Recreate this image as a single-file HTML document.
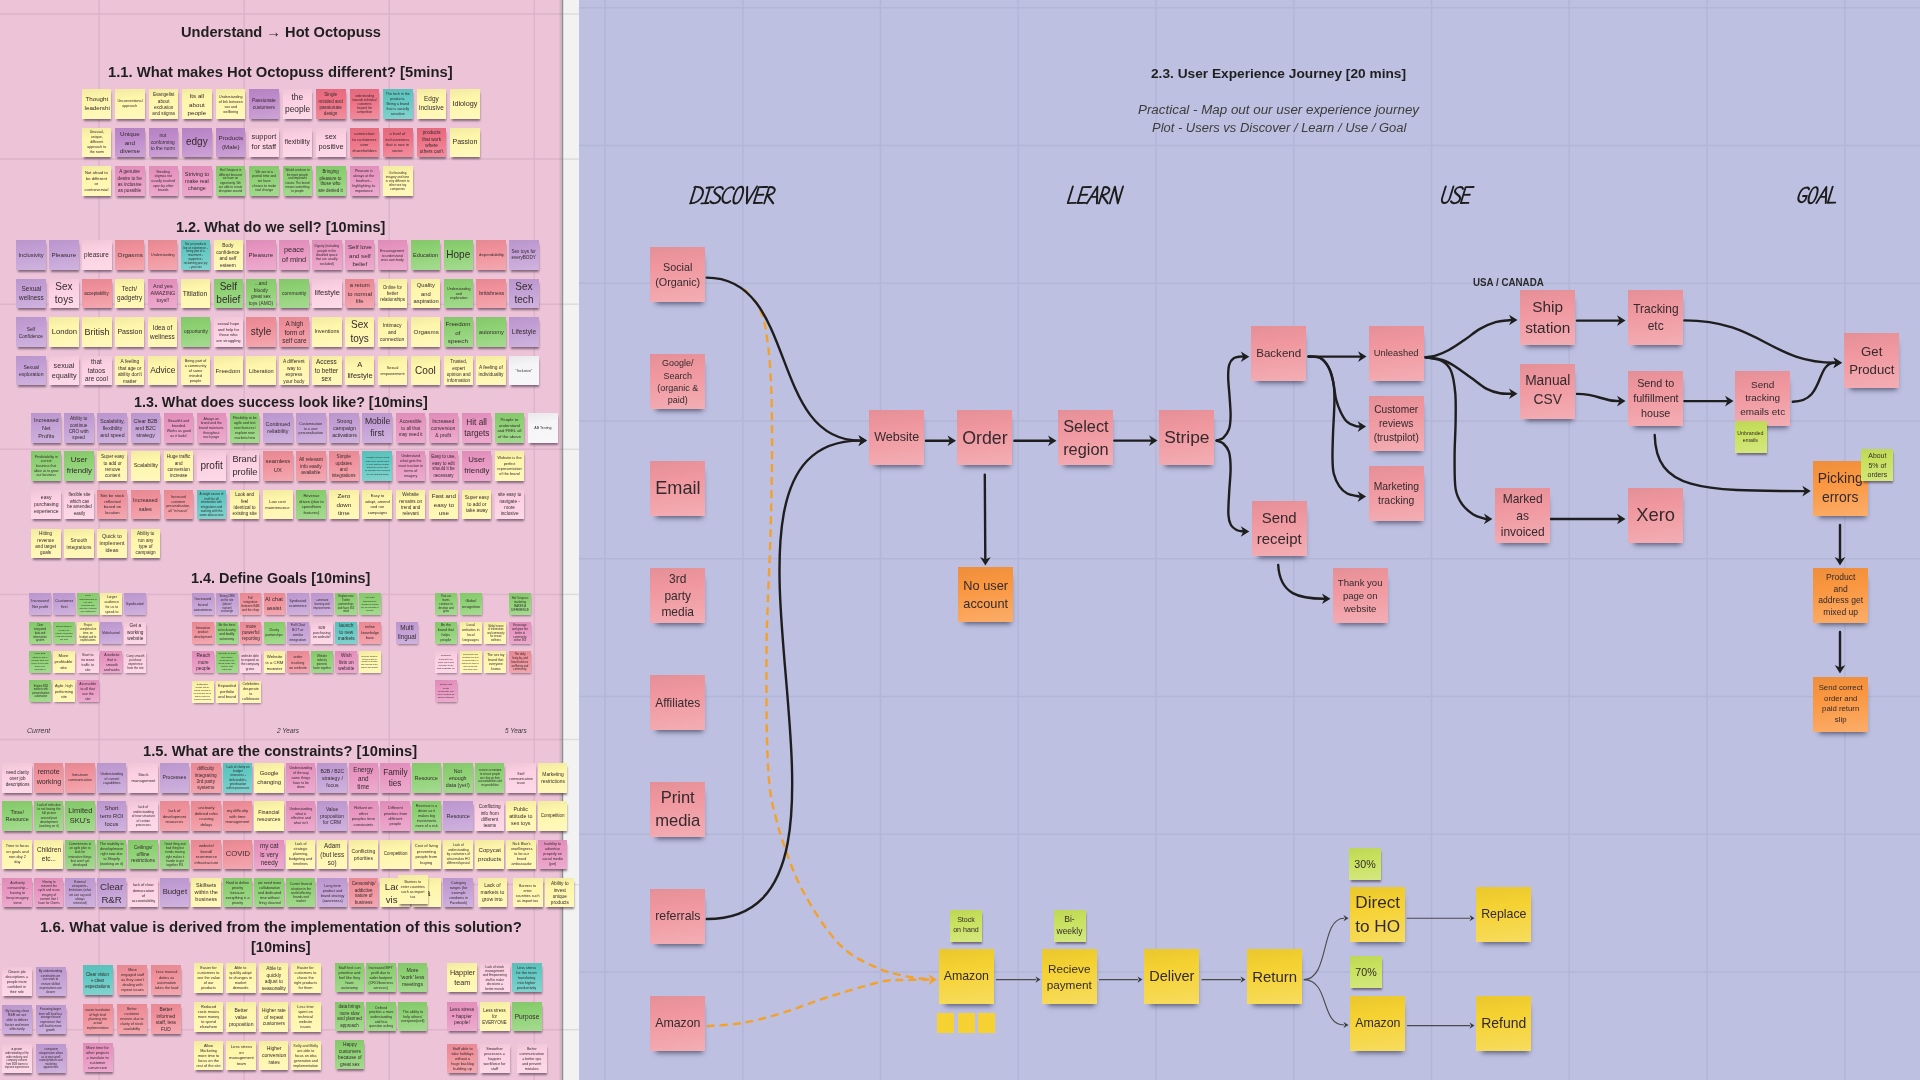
<!DOCTYPE html><html><head><meta charset="utf-8"><title>Miro board</title><style>
*{margin:0;padding:0;box-sizing:border-box}
html,body{width:1920px;height:1080px;overflow:hidden;background:#F2F2F2}
body{position:relative;font-family:"Liberation Sans",sans-serif}
#wrap{position:absolute;left:0;top:0;width:1920px;height:1080px;will-change:transform}
svg.grid,svg.conn{position:absolute;left:0;top:0}
.gp{stroke:#DDB4CA;stroke-width:1.5}
.gl{stroke:#B3B6D7;stroke-width:1.5}
.s{position:absolute;display:flex;align-items:center;justify-content:center;text-align:center;color:#342A2D;line-height:1.36;background-image:linear-gradient(172deg,rgba(0,0,0,.05) 0%,rgba(0,0,0,0) 35%,rgba(255,255,255,.22) 100%)}
.s span{display:block;flex:none;overflow-wrap:normal;word-break:normal}
.sh{box-shadow:2px 6px 5px -4px rgba(30,30,60,.62)}
.sm{box-shadow:1px 3px 2px -1px rgba(50,30,50,.55)}
.xs{box-shadow:1px 2px 2px -1px rgba(50,30,50,.5)}
.ti{position:absolute;white-space:nowrap}
.sq{position:absolute;top:1013.3px;width:17.4px;height:20px;background:#F5D231}
.ti span{position:absolute;left:0;transform-origin:0 0}
</style></head><body><div id="wrap"><svg class="grid" width="1920" height="1080" viewBox="0 0 1920 1080"><rect x="0" y="0" width="561.5" height="1080" fill="#ECC3D7"></rect><rect x="561.5" y="0" width="17.5" height="1080" fill="#F2F2F2"></rect><rect x="579" y="0" width="1341" height="1080" fill="#BDC0E0"></rect><line x1="0" y1="14.0" x2="579" y2="14.0" class="gp"></line><line x1="0" y1="159.1" x2="579" y2="159.1" class="gp"></line><line x1="0" y1="304.2" x2="579" y2="304.2" class="gp"></line><line x1="0" y1="449.3" x2="579" y2="449.3" class="gp"></line><line x1="0" y1="594.4" x2="579" y2="594.4" class="gp"></line><line x1="0" y1="739.5" x2="579" y2="739.5" class="gp"></line><line x1="0" y1="884.6" x2="579" y2="884.6" class="gp"></line><line x1="0" y1="1029.7" x2="579" y2="1029.7" class="gp"></line><line x1="99.1" y1="0" x2="99.1" y2="1080" class="gp"></line><line x1="244.2" y1="0" x2="244.2" y2="1080" class="gp"></line><line x1="389.2" y1="0" x2="389.2" y2="1080" class="gp"></line><line x1="534.3" y1="0" x2="534.3" y2="1080" class="gp"></line><rect x="563" y="0" width="16" height="1080" fill="#F2F2F2"></rect><line x1="563" y1="14.0" x2="579" y2="14.0" stroke="#DCDCDC" stroke-width="1.5"></line><line x1="563" y1="159.1" x2="579" y2="159.1" stroke="#DCDCDC" stroke-width="1.5"></line><line x1="563" y1="304.2" x2="579" y2="304.2" stroke="#DCDCDC" stroke-width="1.5"></line><line x1="563" y1="449.3" x2="579" y2="449.3" stroke="#DCDCDC" stroke-width="1.5"></line><line x1="563" y1="594.4" x2="579" y2="594.4" stroke="#DCDCDC" stroke-width="1.5"></line><line x1="563" y1="739.5" x2="579" y2="739.5" stroke="#DCDCDC" stroke-width="1.5"></line><line x1="563" y1="884.6" x2="579" y2="884.6" stroke="#DCDCDC" stroke-width="1.5"></line><line x1="563" y1="1029.7" x2="579" y2="1029.7" stroke="#DCDCDC" stroke-width="1.5"></line><line x1="579" y1="7.7" x2="1920" y2="7.7" class="gl"></line><line x1="579" y1="145.4" x2="1920" y2="145.4" class="gl"></line><line x1="579" y1="283.2" x2="1920" y2="283.2" class="gl"></line><line x1="579" y1="420.9" x2="1920" y2="420.9" class="gl"></line><line x1="579" y1="558.7" x2="1920" y2="558.7" class="gl"></line><line x1="579" y1="696.5" x2="1920" y2="696.5" class="gl"></line><line x1="579" y1="834.2" x2="1920" y2="834.2" class="gl"></line><line x1="579" y1="972.0" x2="1920" y2="972.0" class="gl"></line><line x1="605.0" y1="0" x2="605.0" y2="1080" class="gl"></line><line x1="742.8" y1="0" x2="742.8" y2="1080" class="gl"></line><line x1="880.5" y1="0" x2="880.5" y2="1080" class="gl"></line><line x1="1018.2" y1="0" x2="1018.2" y2="1080" class="gl"></line><line x1="1156.0" y1="0" x2="1156.0" y2="1080" class="gl"></line><line x1="1293.8" y1="0" x2="1293.8" y2="1080" class="gl"></line><line x1="1431.5" y1="0" x2="1431.5" y2="1080" class="gl"></line><line x1="1569.2" y1="0" x2="1569.2" y2="1080" class="gl"></line><line x1="1707.0" y1="0" x2="1707.0" y2="1080" class="gl"></line><line x1="1844.8" y1="0" x2="1844.8" y2="1080" class="gl"></line><defs><linearGradient id="edg" x1="0" x2="1" y1="0" y2="0"><stop offset="0" stop-color="#000" stop-opacity="0"></stop><stop offset="1" stop-color="#000" stop-opacity=".13"></stop></linearGradient></defs><rect x="558.6" y="0" width="3" height="1080" fill="url(#edg)"></rect><rect x="561.6" y="0" width="1.6" height="1080" fill="#8E8E8E"></rect></svg><div class="s sm" style="left:81.6px;top:89.3px;width:29.5px;height:29.3px;background-color:#FEF6AA"><span style="font-size: 7px; width: 27.69px; transform: scale(0.8883);">Thought leadershi</span></div><div class="s sm" style="left:115.1px;top:89.3px;width:29.5px;height:29.3px;background-color:#FEF6AA"><span style="font-size: 7px; width: 47.59px; transform: scale(0.5169);">Unconventional approach</span></div><div class="s sm" style="left:148.6px;top:89.3px;width:29.5px;height:29.3px;background-color:#FEF6AA"><span style="font-size: 7px; width: 37.29px; transform: scale(0.6597);">Evangelist about exclusion and stigma</span></div><div class="s sm" style="left:182.1px;top:89.3px;width:29.5px;height:29.3px;background-color:#FEF6AA"><span style="font-size: 7px; width: 27.69px; transform: scale(0.8883);">Its all about people</span></div><div class="s sm" style="left:215.6px;top:89.3px;width:29.5px;height:29.3px;background-color:#FEF6AA"><span style="font-size: 7px; width: 47.59px; transform: scale(0.5169);">Understanding of link between sex and wellbeing</span></div><div class="s sm" style="left:249.1px;top:89.3px;width:29.5px;height:29.3px;background-color:#BE8ACB"><span style="font-size: 7px; width: 35.74px; transform: scale(0.6883);">Passionate customers</span></div><div class="s sm" style="left:282.5px;top:89.3px;width:29.5px;height:29.3px;background-color:#FCD0E2"><span style="font-size: 8.42px; width: 24.6px;">the people</span></div><div class="s sm" style="left:316.0px;top:89.3px;width:29.5px;height:29.3px;background-color:#EE6F83"><span style="font-size: 7px; width: 37.29px; transform: scale(0.6597);">Single minded and passionate design</span></div><div class="s sm" style="left:349.5px;top:89.3px;width:29.5px;height:29.3px;background-color:#EE6F83"><span style="font-size: 7px; width: 57.06px; transform: scale(0.4312);">understanding towards individual customers beyond the competition</span></div><div class="s sm" style="left:383.0px;top:89.3px;width:29.5px;height:29.3px;background-color:#60C8C2"><span style="font-size: 7px; width: 47.59px; transform: scale(0.5169);">The tech in the products. Being a brand that is socially sensitive</span></div><div class="s sm" style="left:416.5px;top:89.3px;width:29.5px;height:29.3px;background-color:#FEF6AA"><span style="font-size: 7px; width: 26.83px; transform: scale(0.9169);">Edgy inclusive</span></div><div class="s sm" style="left:450.0px;top:89.3px;width:29.5px;height:29.3px;background-color:#FEF6AA"><span style="font-size: 7.22px; width: 24.6px;">Idiology</span></div><div class="s sm" style="left:81.6px;top:127.5px;width:29.5px;height:29.3px;background-color:#FEF6AA"><span style="font-size: 7px; width: 47.59px; transform: scale(0.5169);">Unusual, unique, different approach to the norm</span></div><div class="s sm" style="left:115.1px;top:127.5px;width:29.5px;height:29.3px;background-color:#BE8ACB"><span style="font-size: 7px; width: 27.69px; transform: scale(0.8883);">Unique and diverse</span></div><div class="s sm" style="left:148.6px;top:127.5px;width:29.5px;height:29.3px;background-color:#BE8ACB"><span style="font-size: 7px; width: 35.74px; transform: scale(0.6883);">not conforming to the norm</span></div><div class="s sm" style="left:182.1px;top:127.5px;width:29.5px;height:29.3px;background-color:#BE8ACB"><span style="font-size: 10.02px; width: 24.6px;">edgy</span></div><div class="s sm" style="left:215.6px;top:127.5px;width:29.5px;height:29.3px;background-color:#BE8ACB"><span style="font-size: 7px; width: 27.69px; transform: scale(0.8883);">Products (Male)</span></div><div class="s sm" style="left:249.1px;top:127.5px;width:29.5px;height:29.3px;background-color:#FCD0E2"><span style="font-size: 7.42px; width: 24.6px;">support for staff</span></div><div class="s sm" style="left:282.5px;top:127.5px;width:29.5px;height:29.3px;background-color:#FCD0E2"><span style="font-size: 7px; width: 26.02px; transform: scale(0.9454);">flexibility</span></div><div class="s sm" style="left:316.0px;top:127.5px;width:29.5px;height:29.3px;background-color:#FCD0E2"><span style="font-size: 7.42px; width: 24.6px;">sex positive</span></div><div class="s sm" style="left:349.5px;top:127.5px;width:29.5px;height:29.3px;background-color:#EE6F83"><span style="font-size: 7px; width: 40.82px; transform: scale(0.6026);">connection to customers over shareholders</span></div><div class="s sm" style="left:383.0px;top:127.5px;width:29.5px;height:29.3px;background-color:#EE6F83"><span style="font-size: 7px; width: 42.86px; transform: scale(0.574);">a level of inclusiveness that is rare in sector</span></div><div class="s sm" style="left:416.5px;top:127.5px;width:29.5px;height:29.3px;background-color:#EE6F83"><span style="font-size: 7px; width: 37.29px; transform: scale(0.6597);">products that work where others can't</span></div><div class="s sm" style="left:450.0px;top:127.5px;width:29.5px;height:29.3px;background-color:#FEF6AA"><span style="font-size: 7.02px; width: 24.6px;">Passion</span></div><div class="s sm" style="left:81.6px;top:166.3px;width:29.5px;height:29.3px;background-color:#FEF6AA"><span style="font-size: 7px; width: 40.82px; transform: scale(0.6026);">Not afraid to be different or controversial</span></div><div class="s sm" style="left:115.1px;top:166.3px;width:29.5px;height:29.3px;background-color:#E895C1"><span style="font-size: 7px; width: 37.29px; transform: scale(0.6597);">A genuine desire to be as inclusive as possible</span></div><div class="s sm" style="left:148.6px;top:166.3px;width:29.5px;height:29.3px;background-color:#E895C1"><span style="font-size: 7px; width: 50.38px; transform: scale(0.4883);">Breaking stigmas not usually touched upon by other brands</span></div><div class="s sm" style="left:182.1px;top:166.3px;width:29.5px;height:29.3px;background-color:#E895C1"><span style="font-size: 7px; width: 31.78px; transform: scale(0.774);">Striving to make real change</span></div><div class="s sm" style="left:215.6px;top:166.3px;width:29.5px;height:29.3px;background-color:#8CD172"><span style="font-size: 7px; width: 57.06px; transform: scale(0.4312);">Hot Octopuss is different because we have an opportunity. We are able to create disruption around</span></div><div class="s sm" style="left:249.1px;top:166.3px;width:29.5px;height:29.3px;background-color:#8CD172"><span style="font-size: 7px; width: 50.38px; transform: scale(0.4883);">We are at a pivotal time and we have chance to make real change</span></div><div class="s sm" style="left:282.5px;top:166.3px;width:29.5px;height:29.3px;background-color:#8CD172"><span style="font-size: 7px; width: 57.06px; transform: scale(0.4312);">Would continue to be more people and important issues. The brand means something to people</span></div><div class="s sm" style="left:316.0px;top:166.3px;width:29.5px;height:29.3px;background-color:#8CD172"><span style="font-size: 7px; width: 38.98px; transform: scale(0.6312);">Bringing pleasure to those who are denied it</span></div><div class="s sm" style="left:349.5px;top:166.3px;width:29.5px;height:29.3px;background-color:#E895C1"><span style="font-size: 7px; width: 47.59px; transform: scale(0.5169);">Pleasure is always at the forefront - highlighting its importance</span></div><div class="s sm" style="left:383.0px;top:166.3px;width:29.5px;height:29.3px;background-color:#FEF6AA"><span style="font-size: 7px; width: 57.06px; transform: scale(0.4312);">Our branding imagery and tone is very different to other sex toy companies</span></div><div class="s sm" style="left:16.3px;top:240.0px;width:29.6px;height:29.6px;background-color:#C29ED5"><span style="font-size: 7px; width: 29.6px; transform: scale(0.8312);">Inclusivity</span></div><div class="s sm" style="left:49.2px;top:240.0px;width:29.6px;height:29.6px;background-color:#C29ED5"><span style="font-size: 7px; width: 27.69px; transform: scale(0.8883);">Pleasure</span></div><div class="s sm" style="left:82.0px;top:240.0px;width:29.6px;height:29.6px;background-color:#FCD0E2"><span style="font-size: 7px; width: 26.83px; transform: scale(0.9169);">pleasure</span></div><div class="s sm" style="left:114.9px;top:240.0px;width:29.6px;height:29.6px;background-color:#F0909A"><span style="font-size: 7px; width: 27.69px; transform: scale(0.8883);">Orgasms</span></div><div class="s sm" style="left:147.7px;top:240.0px;width:29.6px;height:29.6px;background-color:#F0909A"><span style="font-size: 7px; width: 47.59px; transform: scale(0.5169);">Understanding</span></div><div class="s sm" style="left:180.6px;top:240.0px;width:29.6px;height:29.6px;background-color:#60C8C2"><span style="font-size: 7px; width: 61.11px; transform: scale(0.4026);">Not just products but an experience - being part of a movement - supportive - reclaiming your joy - your sex</span></div><div class="s sm" style="left:213.5px;top:240.0px;width:29.6px;height:29.6px;background-color:#FEF6AA"><span style="font-size: 7px; width: 35.74px; transform: scale(0.6883);">Body confidence and self esteem</span></div><div class="s sm" style="left:246.3px;top:240.0px;width:29.6px;height:29.6px;background-color:#E895C1"><span style="font-size: 7px; width: 27.69px; transform: scale(0.8883);">Pleasure</span></div><div class="s sm" style="left:279.2px;top:240.0px;width:29.6px;height:29.6px;background-color:#E895C1"><span style="font-size: 7.42px; width: 24.6px;">peace of mind</span></div><div class="s sm" style="left:312.0px;top:240.0px;width:29.6px;height:29.6px;background-color:#E895C1"><span style="font-size: 7px; width: 53.51px; transform: scale(0.4597);">Dignity (including people in the disabled space that are usually excluded)</span></div><div class="s sm" style="left:344.9px;top:240.0px;width:29.6px;height:29.6px;background-color:#E895C1"><span style="font-size: 7px; width: 27.69px; transform: scale(0.8883);">Self love and self belief</span></div><div class="s sm" style="left:377.8px;top:240.0px;width:29.6px;height:29.6px;background-color:#E895C1"><span style="font-size: 7px; width: 50.38px; transform: scale(0.4883);">Encouragement to understand ones own body</span></div><div class="s sm" style="left:410.6px;top:240.0px;width:29.6px;height:29.6px;background-color:#8CD172"><span style="font-size: 7px; width: 30.65px; transform: scale(0.8026);">Education</span></div><div class="s sm" style="left:443.5px;top:240.0px;width:29.6px;height:29.6px;background-color:#8CD172"><span style="font-size: 10.02px; width: 24.6px;">Hope</span></div><div class="s sm" style="left:476.3px;top:240.0px;width:29.6px;height:29.6px;background-color:#F0909A"><span style="font-size: 7px; width: 40.82px; transform: scale(0.6026);">dependability</span></div><div class="s sm" style="left:509.2px;top:240.0px;width:29.6px;height:29.6px;background-color:#C29ED5"><span style="font-size: 7px; width: 37.29px; transform: scale(0.6597);">Sex toys for everyBODY</span></div><div class="s sm" style="left:16.3px;top:278.7px;width:29.6px;height:29.6px;background-color:#C29ED5"><span style="font-size: 7px; width: 26.83px; transform: scale(0.9169);">Sexual wellness</span></div><div class="s sm" style="left:49.2px;top:278.7px;width:29.6px;height:29.6px;background-color:#FCD0E2"><span style="font-size: 10.02px; width: 24.6px;">Sex toys</span></div><div class="s sm" style="left:82.0px;top:278.7px;width:29.6px;height:29.6px;background-color:#F0909A"><span style="font-size: 7px; width: 38.98px; transform: scale(0.6312);">acceptability</span></div><div class="s sm" style="left:114.9px;top:278.7px;width:29.6px;height:29.6px;background-color:#FEF6AA"><span style="font-size: 7px; width: 26.83px; transform: scale(0.9169);">Tech/​ gadgetry</span></div><div class="s sm" style="left:147.7px;top:278.7px;width:29.6px;height:29.6px;background-color:#E895C1"><span style="font-size: 7px; width: 31.78px; transform: scale(0.774);">And yes AMAZING toys!!</span></div><div class="s sm" style="left:180.6px;top:278.7px;width:29.6px;height:29.6px;background-color:#FEF6AA"><span style="font-size: 7px; width: 26.02px; transform: scale(0.9454);">Titilation</span></div><div class="s sm" style="left:213.5px;top:278.7px;width:29.6px;height:29.6px;background-color:#8CD172"><span style="font-size: 10.02px; width: 24.6px;">Self belief</span></div><div class="s sm" style="left:246.3px;top:278.7px;width:29.6px;height:29.6px;background-color:#8CD172"><span style="font-size: 7px; width: 35.74px; transform: scale(0.6883);">...and bloody great sex toys (AMO)</span></div><div class="s sm" style="left:279.2px;top:278.7px;width:29.6px;height:29.6px;background-color:#8CD172"><span style="font-size: 7px; width: 34.32px; transform: scale(0.7169);">community</span></div><div class="s sm" style="left:312.0px;top:278.7px;width:29.6px;height:29.6px;background-color:#FCD0E2"><span style="font-size: 7.62px; width: 24.6px;">lifestyle</span></div><div class="s sm" style="left:344.9px;top:278.7px;width:29.6px;height:29.6px;background-color:#F0909A"><span style="font-size: 7px; width: 29.6px; transform: scale(0.8312);">a return to normal life</span></div><div class="s sm" style="left:377.8px;top:278.7px;width:29.6px;height:29.6px;background-color:#FEF6AA"><span style="font-size: 7px; width: 38.98px; transform: scale(0.6312);">Online for better relationships</span></div><div class="s sm" style="left:410.6px;top:278.7px;width:29.6px;height:29.6px;background-color:#FEF6AA"><span style="font-size: 7px; width: 29.6px; transform: scale(0.8312);">Quality and aspiration</span></div><div class="s sm" style="left:443.5px;top:278.7px;width:29.6px;height:29.6px;background-color:#8CD172"><span style="font-size: 7px; width: 47.59px; transform: scale(0.5169);">Understanding and exploration</span></div><div class="s sm" style="left:476.3px;top:278.7px;width:29.6px;height:29.6px;background-color:#F0909A"><span style="font-size: 7px; width: 33px; transform: scale(0.7454);">britishness</span></div><div class="s sm" style="left:509.2px;top:278.7px;width:29.6px;height:29.6px;background-color:#C29ED5"><span style="font-size: 10.02px; width: 24.6px;">Sex tech</span></div><div class="s sm" style="left:16.3px;top:317.3px;width:29.6px;height:29.6px;background-color:#C29ED5"><span style="font-size: 7px; width: 35.74px; transform: scale(0.6883);">Self Confidence</span></div><div class="s sm" style="left:49.2px;top:317.3px;width:29.6px;height:29.6px;background-color:#FEF6AA"><span style="font-size: 7.62px; width: 24.6px;">London</span></div><div class="s sm" style="left:82.0px;top:317.3px;width:29.6px;height:29.6px;background-color:#FEF6AA"><span style="font-size: 9.02px; width: 24.6px;">British</span></div><div class="s sm" style="left:114.9px;top:317.3px;width:29.6px;height:29.6px;background-color:#FEF6AA"><span style="font-size: 7.02px; width: 24.6px;">Passion</span></div><div class="s sm" style="left:147.7px;top:317.3px;width:29.6px;height:29.6px;background-color:#FEF6AA"><span style="font-size: 7px; width: 26.83px; transform: scale(0.9169);">Idea of wellness</span></div><div class="s sm" style="left:180.6px;top:317.3px;width:29.6px;height:29.6px;background-color:#8CD172"><span style="font-size: 7px; width: 35.74px; transform: scale(0.6883);">opportunity</span></div><div class="s sm" style="left:213.5px;top:317.3px;width:29.6px;height:29.6px;background-color:#FCD0E2"><span style="font-size: 7px; width: 42.86px; transform: scale(0.574);">sexual hope and help for those who are struggling</span></div><div class="s sm" style="left:246.3px;top:317.3px;width:29.6px;height:29.6px;background-color:#F0909A"><span style="font-size: 10.02px; width: 24.6px;">style</span></div><div class="s sm" style="left:279.2px;top:317.3px;width:29.6px;height:29.6px;background-color:#F0909A"><span style="font-size: 7px; width: 26.83px; transform: scale(0.9169);">A high form of self care</span></div><div class="s sm" style="left:312.0px;top:317.3px;width:29.6px;height:29.6px;background-color:#FEF6AA"><span style="font-size: 7px; width: 31.78px; transform: scale(0.774);">Inventions</span></div><div class="s sm" style="left:344.9px;top:317.3px;width:29.6px;height:29.6px;background-color:#FEF6AA"><span style="font-size: 10.02px; width: 24.6px;">Sex toys</span></div><div class="s sm" style="left:377.8px;top:317.3px;width:29.6px;height:29.6px;background-color:#FEF6AA"><span style="font-size: 7px; width: 34.32px; transform: scale(0.7169);">Intimacy and connection</span></div><div class="s sm" style="left:410.6px;top:317.3px;width:29.6px;height:29.6px;background-color:#FEF6AA"><span style="font-size: 7px; width: 27.69px; transform: scale(0.8883);">Orgasms</span></div><div class="s sm" style="left:443.5px;top:317.3px;width:29.6px;height:29.6px;background-color:#8CD172"><span style="font-size: 7px; width: 27.69px; transform: scale(0.8883);">Freedom of speech</span></div><div class="s sm" style="left:476.3px;top:317.3px;width:29.6px;height:29.6px;background-color:#8CD172"><span style="font-size: 7px; width: 30.65px; transform: scale(0.8026);">autonomy</span></div><div class="s sm" style="left:509.2px;top:317.3px;width:29.6px;height:29.6px;background-color:#C29ED5"><span style="font-size: 7px; width: 26.02px; transform: scale(0.9454);">Lifestyle</span></div><div class="s sm" style="left:16.3px;top:355.9px;width:29.6px;height:29.6px;background-color:#C29ED5"><span style="font-size: 7px; width: 34.32px; transform: scale(0.7169);">Sexual exploration</span></div><div class="s sm" style="left:49.2px;top:355.9px;width:29.6px;height:29.6px;background-color:#FCD0E2"><span style="font-size: 7.22px; width: 24.6px;">sexual equality</span></div><div class="s sm" style="left:82.0px;top:355.9px;width:29.6px;height:29.6px;background-color:#FCD0E2"><span style="font-size: 7px; width: 26.83px; transform: scale(0.9169);">that tatoos are cool</span></div><div class="s sm" style="left:114.9px;top:355.9px;width:29.6px;height:29.6px;background-color:#FEF6AA"><span style="font-size: 7px; width: 35.74px; transform: scale(0.6883);">A feeling that age or ability don't matter</span></div><div class="s sm" style="left:147.7px;top:355.9px;width:29.6px;height:29.6px;background-color:#FEF6AA"><span style="font-size: 8.42px; width: 24.6px;">Advice</span></div><div class="s sm" style="left:180.6px;top:355.9px;width:29.6px;height:29.6px;background-color:#FEF6AA"><span style="font-size: 7px; width: 45.1px; transform: scale(0.5454);">Being part of a community of same minded people</span></div><div class="s sm" style="left:213.5px;top:355.9px;width:29.6px;height:29.6px;background-color:#FEF6AA"><span style="font-size: 7px; width: 27.69px; transform: scale(0.8883);">Freedom</span></div><div class="s sm" style="left:246.3px;top:355.9px;width:29.6px;height:29.6px;background-color:#FEF6AA"><span style="font-size: 7px; width: 30.65px; transform: scale(0.8026);">Liberation</span></div><div class="s sm" style="left:279.2px;top:355.9px;width:29.6px;height:29.6px;background-color:#FEF6AA"><span style="font-size: 7px; width: 35.74px; transform: scale(0.6883);">A different way to express your body</span></div><div class="s sm" style="left:312.0px;top:355.9px;width:29.6px;height:29.6px;background-color:#FEF6AA"><span style="font-size: 7px; width: 26.83px; transform: scale(0.9169);">Access to better sex</span></div><div class="s sm" style="left:344.9px;top:355.9px;width:29.6px;height:29.6px;background-color:#FEF6AA"><span style="font-size: 7.62px; width: 24.6px;">A lifestyle</span></div><div class="s sm" style="left:377.8px;top:355.9px;width:29.6px;height:29.6px;background-color:#FEF6AA"><span style="font-size: 7px; width: 45.1px; transform: scale(0.5454);">Sexual empowerment</span></div><div class="s sm" style="left:410.6px;top:355.9px;width:29.6px;height:29.6px;background-color:#FEF6AA"><span style="font-size: 10.02px; width: 24.6px;">Cool</span></div><div class="s sm" style="left:443.5px;top:355.9px;width:29.6px;height:29.6px;background-color:#FEF6AA"><span style="font-size: 7px; width: 37.29px; transform: scale(0.6597);">Trusted, expert opinion and information</span></div><div class="s sm" style="left:476.3px;top:355.9px;width:29.6px;height:29.6px;background-color:#FEF6AA"><span style="font-size: 7px; width: 35.74px; transform: scale(0.6883);">A feeling of individuality</span></div><div class="s sm" style="left:509.2px;top:355.9px;width:29.6px;height:29.6px;background-color:#F5F5F7"><span style="font-size: 7px; width: 47.83px; transform: scale(0.5143);">"Inclusive"</span></div><div class="s sm" style="left:31.2px;top:413.2px;width:29.6px;height:29.4px;background-color:#C29ED5"><span style="font-size: 7px; width: 30.65px; transform: scale(0.8026);">Increased Net Profits</span></div><div class="s sm" style="left:64.3px;top:413.2px;width:29.6px;height:29.4px;background-color:#C29ED5"><span style="font-size: 7px; width: 37.29px; transform: scale(0.6597);">Ability to continue CRO with speed</span></div><div class="s sm" style="left:97.4px;top:413.2px;width:29.6px;height:29.4px;background-color:#C29ED5"><span style="font-size: 7px; width: 33px; transform: scale(0.7454);">Scalability, flexibility and speed</span></div><div class="s sm" style="left:130.6px;top:413.2px;width:29.6px;height:29.4px;background-color:#C29ED5"><span style="font-size: 7px; width: 33px; transform: scale(0.7454);">Clear B2B and B2C strategy</span></div><div class="s sm" style="left:163.7px;top:413.2px;width:29.6px;height:29.4px;background-color:#E895C1"><span style="font-size: 7px; width: 47.59px; transform: scale(0.5169);">Beautiful and branded. Works as good as it looks!</span></div><div class="s sm" style="left:196.8px;top:413.2px;width:29.6px;height:29.4px;background-color:#E895C1"><span style="font-size: 7px; width: 50.38px; transform: scale(0.4883);">Always on brand and the brand maintains throughout each page</span></div><div class="s sm" style="left:229.9px;top:413.2px;width:29.6px;height:29.4px;background-color:#8CD172"><span style="font-size: 7px; width: 47.59px; transform: scale(0.5169);">Flexibility to be agile and test new features/​explore new markets/​new</span></div><div class="s sm" style="left:263.0px;top:413.2px;width:29.6px;height:29.4px;background-color:#C29ED5"><span style="font-size: 7px; width: 31.78px; transform: scale(0.774);">Continued reliability</span></div><div class="s sm" style="left:296.2px;top:413.2px;width:29.6px;height:29.4px;background-color:#C29ED5"><span style="font-size: 7px; width: 47.59px; transform: scale(0.5169);">Customisation to a user personalisation</span></div><div class="s sm" style="left:329.3px;top:413.2px;width:29.6px;height:29.4px;background-color:#C29ED5"><span style="font-size: 7px; width: 33px; transform: scale(0.7454);">Strong campaign activations</span></div><div class="s sm" style="left:362.4px;top:413.2px;width:29.6px;height:29.4px;background-color:#C29ED5"><span style="font-size: 8.62px; width: 24.6px;">Mobile first</span></div><div class="s sm" style="left:395.5px;top:413.2px;width:29.6px;height:29.4px;background-color:#E895C1"><span style="font-size: 7px; width: 37.29px; transform: scale(0.6597);">Accessible to all that may need it</span></div><div class="s sm" style="left:428.6px;top:413.2px;width:29.6px;height:29.4px;background-color:#E895C1"><span style="font-size: 7px; width: 34.32px; transform: scale(0.7169);">Increased conversion &amp; profit</span></div><div class="s sm" style="left:461.8px;top:413.2px;width:29.6px;height:29.4px;background-color:#E895C1"><span style="font-size: 8.22px; width: 24.6px;">Hit all targets</span></div><div class="s sm" style="left:494.9px;top:413.2px;width:29.6px;height:29.4px;background-color:#8CD172"><span style="font-size: 7px; width: 40.82px; transform: scale(0.6026);">People to understand and FEEL all of the above</span></div><div class="s sm" style="left:528.0px;top:413.2px;width:29.6px;height:29.4px;background-color:#F5F5F7"><span style="font-size: 7px; width: 47.83px; transform: scale(0.5143);">AB Testing</span></div><div class="s sm" style="left:31.2px;top:451.2px;width:29.6px;height:29.4px;background-color:#8CD172"><span style="font-size: 7px; width: 50.38px; transform: scale(0.4883);">Predictability in current business that allow us to grow our business</span></div><div class="s sm" style="left:64.3px;top:451.2px;width:29.6px;height:29.4px;background-color:#8CD172"><span style="font-size: 7.82px; width: 24.6px;">User friendly</span></div><div class="s sm" style="left:97.4px;top:451.2px;width:29.6px;height:29.4px;background-color:#FEF6AA"><span style="font-size: 7px; width: 37.29px; transform: scale(0.6597);">Super easy to add or remove content</span></div><div class="s sm" style="left:130.6px;top:451.2px;width:29.6px;height:29.4px;background-color:#FEF6AA"><span style="font-size: 7px; width: 31.78px; transform: scale(0.774);">Scalability</span></div><div class="s sm" style="left:163.7px;top:451.2px;width:29.6px;height:29.4px;background-color:#FEF6AA"><span style="font-size: 7px; width: 37.29px; transform: scale(0.6597);">Huge traffic and conversion increase</span></div><div class="s sm" style="left:196.8px;top:451.2px;width:29.6px;height:29.4px;background-color:#FCD0E2"><span style="font-size: 10.02px; width: 24.6px;">profit</span></div><div class="s sm" style="left:229.9px;top:451.2px;width:29.6px;height:29.4px;background-color:#FCD0E2"><span style="font-size: 9.22px; width: 24.6px;">Brand profile</span></div><div class="s sm" style="left:263.0px;top:451.2px;width:29.6px;height:29.4px;background-color:#F0909A"><span style="font-size: 7px; width: 29.6px; transform: scale(0.8312);">seamless UX</span></div><div class="s sm" style="left:296.2px;top:451.2px;width:29.6px;height:29.4px;background-color:#F0909A"><span style="font-size: 7px; width: 35.74px; transform: scale(0.6883);">All relevant info easily available</span></div><div class="s sm" style="left:329.3px;top:451.2px;width:29.6px;height:29.4px;background-color:#F0909A"><span style="font-size: 7px; width: 37.29px; transform: scale(0.6597);">Simple updates and integrations</span></div><div class="s sm" style="left:362.4px;top:451.2px;width:29.6px;height:29.4px;background-color:#60C8C2"><span style="font-size: 7px; width: 71.21px; transform: scale(0.3454);">Website improvement with more functionality in line with the brand and team being able to manage the process on an ongoing basis</span></div><div class="s sm" style="left:395.5px;top:451.2px;width:29.6px;height:29.4px;background-color:#E895C1"><span style="font-size: 7px; width: 47.59px; transform: scale(0.5169);">Understand what gets the most traction in terms of imagery</span></div><div class="s sm" style="left:428.6px;top:451.2px;width:29.6px;height:29.4px;background-color:#E895C1"><span style="font-size: 7px; width: 38.98px; transform: scale(0.6312);">Easy to use, easy to edit should it be necessary</span></div><div class="s sm" style="left:461.8px;top:451.2px;width:29.6px;height:29.4px;background-color:#E895C1"><span style="font-size: 7.82px; width: 24.6px;">User friendly</span></div><div class="s sm" style="left:494.9px;top:451.2px;width:29.6px;height:29.4px;background-color:#FEF6AA"><span style="font-size: 7px; width: 45.1px; transform: scale(0.5454);">Website is the perfect representation of the brand</span></div><div class="s sm" style="left:31.2px;top:489.8px;width:29.6px;height:29.4px;background-color:#FCD0E2"><span style="font-size: 7px; width: 34.32px; transform: scale(0.7169);">easy purchasing experience</span></div><div class="s sm" style="left:64.3px;top:489.8px;width:29.6px;height:29.4px;background-color:#FCD0E2"><span style="font-size: 7px; width: 38.98px; transform: scale(0.6312);">flexible site which can be amended easily</span></div><div class="s sm" style="left:97.4px;top:489.8px;width:29.6px;height:29.4px;background-color:#F0909A"><span style="font-size: 7px; width: 40.82px; transform: scale(0.6026);">Site be stock reflected based on location</span></div><div class="s sm" style="left:130.6px;top:489.8px;width:29.6px;height:29.4px;background-color:#F0909A"><span style="font-size: 7px; width: 30.65px; transform: scale(0.8026);">Increased sales</span></div><div class="s sm" style="left:163.7px;top:489.8px;width:29.6px;height:29.4px;background-color:#F0909A"><span style="font-size: 7px; width: 50.38px; transform: scale(0.4883);">Increased customer personalisation, all "in house"</span></div><div class="s sm" style="left:196.8px;top:489.8px;width:29.6px;height:29.4px;background-color:#60C8C2"><span style="font-size: 7px; width: 57.06px; transform: scale(0.4312);">A single source of truth for all information with integrations and working with the same data across</span></div><div class="s sm" style="left:229.9px;top:489.8px;width:29.6px;height:29.4px;background-color:#FEF6AA"><span style="font-size: 7px; width: 37.29px; transform: scale(0.6597);">Look and feel identical to existing site</span></div><div class="s sm" style="left:263.0px;top:489.8px;width:29.6px;height:29.4px;background-color:#FEF6AA"><span style="font-size: 7px; width: 40.82px; transform: scale(0.6026);">Low cost maintenance</span></div><div class="s sm" style="left:296.2px;top:489.8px;width:29.6px;height:29.4px;background-color:#8CD172"><span style="font-size: 7px; width: 42.86px; transform: scale(0.574);">Revenue driven (due to speed/​new features)</span></div><div class="s sm" style="left:329.3px;top:489.8px;width:29.6px;height:29.4px;background-color:#FEF6AA"><span style="font-size: 7px; width: 27.69px; transform: scale(0.8883);">Zero down time</span></div><div class="s sm" style="left:362.4px;top:489.8px;width:29.6px;height:29.4px;background-color:#FEF6AA"><span style="font-size: 7px; width: 42.86px; transform: scale(0.574);">Easy to adapt, amend and run campaigns</span></div><div class="s sm" style="left:395.5px;top:489.8px;width:29.6px;height:29.4px;background-color:#FEF6AA"><span style="font-size: 7px; width: 37.29px; transform: scale(0.6597);">Website remains on trend and relevant</span></div><div class="s sm" style="left:428.6px;top:489.8px;width:29.6px;height:29.4px;background-color:#FEF6AA"><span style="font-size: 7px; width: 27.69px; transform: scale(0.8883);">Fast and easy to use</span></div><div class="s sm" style="left:461.8px;top:489.8px;width:29.6px;height:29.4px;background-color:#FEF6AA"><span style="font-size: 7px; width: 35.74px; transform: scale(0.6883);">Super easy to add or take away</span></div><div class="s sm" style="left:494.9px;top:489.8px;width:29.6px;height:29.4px;background-color:#FCD0E2"><span style="font-size: 7px; width: 37.29px; transform: scale(0.6597);">site easy to navigate - more inclusive</span></div><div class="s sm" style="left:31.2px;top:528.7px;width:29.6px;height:29.4px;background-color:#FEF6AA"><span style="font-size: 7px; width: 37.29px; transform: scale(0.6597);">Hitting revenue and target goals</span></div><div class="s sm" style="left:64.3px;top:528.7px;width:29.6px;height:29.4px;background-color:#FEF6AA"><span style="font-size: 7px; width: 35.74px; transform: scale(0.6883);">Smooth integrations</span></div><div class="s sm" style="left:97.4px;top:528.7px;width:29.6px;height:29.4px;background-color:#FEF6AA"><span style="font-size: 7px; width: 31.78px; transform: scale(0.774);">Quick to implement ideas</span></div><div class="s sm" style="left:130.6px;top:528.7px;width:29.6px;height:29.4px;background-color:#FEF6AA"><span style="font-size: 7px; width: 37.29px; transform: scale(0.6597);">Ability to run any type of campaign</span></div><div class="s xs" style="left:29.3px;top:592.9px;width:22.0px;height:22.0px;background-color:#C29ED5"><span style="font-size: 7px; width: 32px; transform: scale(0.5638);">Increased Net profit</span></div><div class="s xs" style="left:53.0px;top:592.9px;width:22.0px;height:22.0px;background-color:#C29ED5"><span style="font-size: 7px; width: 30.45px; transform: scale(0.5924);">Customer first</span></div><div class="s xs" style="left:76.7px;top:592.9px;width:22.0px;height:22.0px;background-color:#8CD172"><span style="font-size: 7px; width: 53.81px; transform: scale(0.3352);">Clear understanding of our core products and how they impact our customers</span></div><div class="s xs" style="left:100.4px;top:592.9px;width:22.0px;height:22.0px;background-color:#FEF6AA"><span style="font-size: 7px; width: 35.61px; transform: scale(0.5067);">Larger audience for us to speak to</span></div><div class="s xs" style="left:124.1px;top:592.9px;width:22.0px;height:22.0px;background-color:#C29ED5"><span style="font-size: 7px; width: 35.61px; transform: scale(0.5067);">Syndicated</span></div><div class="s xs" style="left:29.3px;top:621.5px;width:22.0px;height:22.0px;background-color:#8CD172"><span style="font-size: 7px; width: 45.98px; transform: scale(0.3924);">Clear integrated data and information system</span></div><div class="s xs" style="left:53.0px;top:621.5px;width:22.0px;height:22.0px;background-color:#8CD172"><span style="font-size: 7px; width: 53.81px; transform: scale(0.3352);">Strong strategy in place to ensure business lead and results are met</span></div><div class="s xs" style="left:76.7px;top:621.5px;width:22.0px;height:22.0px;background-color:#FEF6AA"><span style="font-size: 7px; width: 45.98px; transform: scale(0.3924);">Project completed on time, on budget and to expectations</span></div><div class="s xs" style="left:100.4px;top:621.5px;width:22.0px;height:22.0px;background-color:#C29ED5"><span style="font-size: 7px; width: 40.13px; transform: scale(0.4495);">Multichannel</span></div><div class="s xs" style="left:124.1px;top:621.5px;width:22.0px;height:22.0px;background-color:#FCD0E2"><span style="font-size: 7px; width: 26.6px; transform: scale(0.6781);">Get a working website</span></div><div class="s xs" style="left:29.3px;top:650.7px;width:22.0px;height:22.0px;background-color:#8CD172"><span style="font-size: 7px; width: 53.81px; transform: scale(0.3352);">Clear B2B strategy and a website that is a place to sell and grow new markets of</span></div><div class="s xs" style="left:53.0px;top:650.7px;width:22.0px;height:22.0px;background-color:#FEF6AA"><span style="font-size: 7px; width: 29.05px; transform: scale(0.6209);">More profitable site</span></div><div class="s xs" style="left:76.7px;top:650.7px;width:22.0px;height:22.0px;background-color:#FCD0E2"><span style="font-size: 7px; width: 35.61px; transform: scale(0.5067);">Start to increase traffic to site</span></div><div class="s xs" style="left:100.4px;top:650.7px;width:22.0px;height:22.0px;background-color:#E895C1"><span style="font-size: 7px; width: 35.61px; transform: scale(0.5067);">A website that is smooth and works</span></div><div class="s xs" style="left:124.1px;top:650.7px;width:22.0px;height:22.0px;background-color:#FCD0E2"><span style="font-size: 7px; width: 42.86px; transform: scale(0.4209);">Carry smooth purchase experience from the site</span></div><div class="s xs" style="left:29.3px;top:680.2px;width:22.0px;height:22.0px;background-color:#8CD172"><span style="font-size: 7px; width: 49.59px; transform: scale(0.3638);">Explore B2B markets with personalisation automation</span></div><div class="s xs" style="left:53.0px;top:680.2px;width:22.0px;height:22.0px;background-color:#FEF6AA"><span style="font-size: 7px; width: 33.71px; transform: scale(0.5352);">Agile, high performing site</span></div><div class="s xs" style="left:76.7px;top:680.2px;width:22.0px;height:22.0px;background-color:#E895C1"><span style="font-size: 7px; width: 35.61px; transform: scale(0.5067);">Accessible to all that use the site</span></div><div class="s xs" style="left:191.9px;top:592.9px;width:21.8px;height:22.0px;background-color:#C29ED5"><span style="font-size: 7px; width: 33.71px; transform: scale(0.5352);">Increased brand awareness</span></div><div class="s xs" style="left:215.8px;top:592.9px;width:21.8px;height:22.0px;background-color:#C29ED5"><span style="font-size: 7px; width: 45.98px; transform: scale(0.3924);">Strong CRM on the site (above/​ nurture) exchange</span></div><div class="s xs" style="left:239.6px;top:592.9px;width:21.8px;height:22.0px;background-color:#F0909A"><span style="font-size: 7px; width: 42.86px; transform: scale(0.4209);">Full integration between B&amp;B and the shop</span></div><div class="s xs" style="left:263.5px;top:592.9px;width:21.8px;height:22.0px;background-color:#F0909A"><span style="font-size: 7px; width: 21.97px; transform: scale(0.8209);">AI chat assist</span></div><div class="s xs" style="left:287.3px;top:592.9px;width:21.8px;height:22.0px;background-color:#C29ED5"><span style="font-size: 7px; width: 37.73px; transform: scale(0.4781);">Syndicated ecommerce</span></div><div class="s xs" style="left:311.1px;top:592.9px;width:21.8px;height:22.0px;background-color:#C29ED5"><span style="font-size: 7px; width: 45.98px; transform: scale(0.3924);">Continued learning and improvements</span></div><div class="s xs" style="left:335.0px;top:592.9px;width:21.8px;height:22.0px;background-color:#8CD172"><span style="font-size: 7px; width: 45.98px; transform: scale(0.3924);">Explore new Twitter partnerships and have 365 retail</span></div><div class="s xs" style="left:358.9px;top:592.9px;width:21.8px;height:22.0px;background-color:#8CD172"><span style="font-size: 7px; width: 53.81px; transform: scale(0.3352);">Full data transparency across all teams for all markets of society</span></div><div class="s xs" style="left:191.9px;top:621.5px;width:21.8px;height:22.0px;background-color:#F0909A"><span style="font-size: 7px; width: 40.13px; transform: scale(0.4495);">Innovative product development</span></div><div class="s xs" style="left:215.8px;top:621.5px;width:21.8px;height:22.0px;background-color:#8CD172"><span style="font-size: 7px; width: 37.73px; transform: scale(0.4781);">Be the best at inclusivity and bodily autonomy</span></div><div class="s xs" style="left:239.6px;top:621.5px;width:21.8px;height:22.0px;background-color:#F0909A"><span style="font-size: 7px; width: 27.77px; transform: scale(0.6495);">more powerful reporting</span></div><div class="s xs" style="left:263.5px;top:621.5px;width:21.8px;height:22.0px;background-color:#8CD172"><span style="font-size: 7px; width: 40.13px; transform: scale(0.4495);">Charity partnerships</span></div><div class="s xs" style="left:287.3px;top:621.5px;width:21.8px;height:22.0px;background-color:#C29ED5"><span style="font-size: 7px; width: 35.61px; transform: scale(0.5067);">Full Chat BOT or similar integration</span></div><div class="s xs" style="left:311.1px;top:621.5px;width:21.8px;height:22.0px;background-color:#FCD0E2"><span style="font-size: 7px; width: 35.61px; transform: scale(0.5067);">B2B purchasing on website!</span></div><div class="s xs" style="left:335.0px;top:621.5px;width:21.8px;height:22.0px;background-color:#60C8C2"><span style="font-size: 7px; width: 26.6px; transform: scale(0.6781);">launch to new markets</span></div><div class="s xs" style="left:358.9px;top:621.5px;width:21.8px;height:22.0px;background-color:#F0909A"><span style="font-size: 7px; width: 33.71px; transform: scale(0.5352);">online knowledge base</span></div><div class="s xs" style="left:191.9px;top:651.0px;width:21.8px;height:22.0px;background-color:#E895C1"><span style="font-size: 7px; width: 26.6px; transform: scale(0.6781);">Reach more people</span></div><div class="s xs" style="left:215.8px;top:651.0px;width:21.8px;height:22.0px;background-color:#8CD172"><span style="font-size: 7px; width: 53.81px; transform: scale(0.3352);">Capacity to grow and nurture business in all areas of the site, nurture and automate</span></div><div class="s xs" style="left:239.6px;top:651.0px;width:21.8px;height:22.0px;background-color:#FCD0E2"><span style="font-size: 7px; width: 40.13px; transform: scale(0.4495);">website able to expand as the company grows</span></div><div class="s xs" style="left:263.5px;top:651.0px;width:21.8px;height:22.0px;background-color:#FEF6AA"><span style="font-size: 7px; width: 29.05px; transform: scale(0.6209);">Website is a CRM monster</span></div><div class="s xs" style="left:287.3px;top:651.0px;width:21.8px;height:22.0px;background-color:#F0909A"><span style="font-size: 7px; width: 33.71px; transform: scale(0.5352);">order tracking on website</span></div><div class="s xs" style="left:311.1px;top:651.0px;width:21.8px;height:22.0px;background-color:#8CD172"><span style="font-size: 7px; width: 45.98px; transform: scale(0.3924);">Website industry pioneers faster together</span></div><div class="s xs" style="left:335.0px;top:651.0px;width:21.8px;height:22.0px;background-color:#E895C1"><span style="font-size: 7px; width: 26.6px; transform: scale(0.6781);">Wish lists on website</span></div><div class="s xs" style="left:358.9px;top:651.0px;width:21.8px;height:22.0px;background-color:#FEF6AA"><span style="font-size: 7px; width: 64.87px; transform: scale(0.2781);">Company structure to allow teams to operate as a single unit ensuring all are aligned with growth</span></div><div class="s xs" style="left:191.9px;top:680.5px;width:21.8px;height:22.0px;background-color:#FEF6AA"><span style="font-size: 7px; width: 58.83px; transform: scale(0.3067);">Sustainable growth with all teams working to full potential and a strong customer focused business</span></div><div class="s xs" style="left:215.8px;top:680.5px;width:21.8px;height:22.0px;background-color:#FEF6AA"><span style="font-size: 7px; width: 32px; transform: scale(0.5638);">Expanded portfolio and brand</span></div><div class="s xs" style="left:239.6px;top:680.5px;width:21.8px;height:22.0px;background-color:#FEF6AA"><span style="font-size: 7px; width: 35.61px; transform: scale(0.5067);">Celebrities desperate to collaborate</span></div><div class="s xs" style="left:396.3px;top:621.5px;width:22.0px;height:22.0px;background-color:#C29ED5"><span style="font-size: 7px; width: 19.9px; transform: scale(0.9067);">Multi lingual</span></div><div class="s xs" style="left:435.0px;top:592.9px;width:22.0px;height:22.0px;background-color:#8CD172"><span style="font-size: 7px; width: 45.98px; transform: scale(0.3924);">That our teams continue to develop and grow</span></div><div class="s xs" style="left:459.7px;top:592.9px;width:22.0px;height:22.0px;background-color:#8CD172"><span style="font-size: 7px; width: 33.71px; transform: scale(0.5352);">Global recognition</span></div><div class="s xs" style="left:509.1px;top:592.9px;width:22.0px;height:22.0px;background-color:#8CD172"><span style="font-size: 7px; width: 45.98px; transform: scale(0.3924);">Hot Octopuss marketing MAKES A DIFFERENCE</span></div><div class="s xs" style="left:435.0px;top:621.5px;width:22.0px;height:22.0px;background-color:#8CD172"><span style="font-size: 7px; width: 35.61px; transform: scale(0.5067);">Be the brand that helps people</span></div><div class="s xs" style="left:459.7px;top:621.5px;width:22.0px;height:22.0px;background-color:#FEF6AA"><span style="font-size: 7px; width: 35.61px; transform: scale(0.5067);">Local websites in local languages</span></div><div class="s xs" style="left:484.4px;top:621.5px;width:22.0px;height:22.0px;background-color:#FEF6AA"><span style="font-size: 7px; width: 49.59px; transform: scale(0.3638);">Global source of information and community for sexual wellness</span></div><div class="s xs" style="left:509.1px;top:621.5px;width:22.0px;height:22.0px;background-color:#E895C1"><span style="font-size: 7px; width: 45.98px; transform: scale(0.3924);">Encourage and grow the better at community online 365</span></div><div class="s xs" style="left:435.0px;top:651.0px;width:22.0px;height:22.0px;background-color:#FCD0E2"><span style="font-size: 7px; width: 53.81px; transform: scale(0.3352);">Customer support to be more open and inclusive to all that message us</span></div><div class="s xs" style="left:459.7px;top:651.0px;width:22.0px;height:22.0px;background-color:#FEF6AA"><span style="font-size: 7px; width: 58.83px; transform: scale(0.3067);">Community and wellness info and product library of articles to achieve and community and world wide</span></div><div class="s xs" style="left:484.4px;top:651.0px;width:22.0px;height:22.0px;background-color:#FEF6AA"><span style="font-size: 7px; width: 37.73px; transform: scale(0.4781);">The sex toy brand that everyone knows</span></div><div class="s xs" style="left:509.1px;top:651.0px;width:22.0px;height:22.0px;background-color:#F0909A"><span style="font-size: 7px; width: 45.98px; transform: scale(0.3924);">The daily living by, and brand and our wellbeing and community</span></div><div class="s xs" style="left:435.0px;top:680.2px;width:22.0px;height:22.0px;background-color:#E895C1"><span style="font-size: 7px; width: 53.81px; transform: scale(0.3352);">Nurture and create community 365 more content on social networks</span></div><div class="s sm" style="left:2.4px;top:763.2px;width:29.4px;height:29.4px;background-color:#FCD0E2"><span style="font-size: 7px; width: 37.12px; transform: scale(0.6406);">need clarity over job descriptions</span></div><div class="s sm" style="left:33.9px;top:763.2px;width:29.4px;height:29.4px;background-color:#F0909A"><span style="font-size: 7.08px; width: 23.78px;">remote working</span></div><div class="s sm" style="left:65.4px;top:763.2px;width:29.4px;height:29.4px;background-color:#F0909A"><span style="font-size: 7px; width: 47.78px; transform: scale(0.4977);">Inter-team communication</span></div><div class="s sm" style="left:96.9px;top:763.2px;width:29.4px;height:29.4px;background-color:#C29ED5"><span style="font-size: 7px; width: 47.78px; transform: scale(0.4977);">Understanding of current capabilities</span></div><div class="s sm" style="left:128.4px;top:763.2px;width:29.4px;height:29.4px;background-color:#FCD0E2"><span style="font-size: 7px; width: 40.76px; transform: scale(0.5834);">Stock management</span></div><div class="s sm" style="left:159.9px;top:763.2px;width:29.4px;height:29.4px;background-color:#C29ED5"><span style="font-size: 7px; width: 32.74px; transform: scale(0.7263);">Processes</span></div><div class="s sm" style="left:191.4px;top:763.2px;width:29.4px;height:29.4px;background-color:#F0909A"><span style="font-size: 7px; width: 35.54px; transform: scale(0.6692);">difficulty integrating 3rd party systems</span></div><div class="s sm" style="left:222.9px;top:763.2px;width:29.4px;height:29.4px;background-color:#60C8C2"><span style="font-size: 7px; width: 53.97px; transform: scale(0.4406);">Lack of clarity on budget resources - deliverables, prioritisation within processes</span></div><div class="s sm" style="left:254.4px;top:763.2px;width:29.4px;height:29.4px;background-color:#FEF6AA"><span style="font-size: 7px; width: 28.29px; transform: scale(0.8406);">Google changing</span></div><div class="s sm" style="left:285.9px;top:763.2px;width:29.4px;height:29.4px;background-color:#E895C1"><span style="font-size: 7px; width: 47.78px; transform: scale(0.4977);">Understanding of the way some things have to be done</span></div><div class="s sm" style="left:317.4px;top:763.2px;width:29.4px;height:29.4px;background-color:#C29ED5"><span style="font-size: 7px; width: 32.74px; transform: scale(0.7263);">B2B /​ B2C strategy /​ focus</span></div><div class="s sm" style="left:348.9px;top:763.2px;width:29.4px;height:29.4px;background-color:#E895C1"><span style="font-size: 7px; width: 26.49px; transform: scale(0.8977);">Energy and time</span></div><div class="s sm" style="left:380.4px;top:763.2px;width:29.4px;height:29.4px;background-color:#E895C1"><span style="font-size: 8.28px; width: 23.78px;">Family ties</span></div><div class="s sm" style="left:411.9px;top:763.2px;width:29.4px;height:29.4px;background-color:#8CD172"><span style="font-size: 7px; width: 30.35px; transform: scale(0.7834);">Resource</span></div><div class="s sm" style="left:443.4px;top:763.2px;width:29.4px;height:29.4px;background-color:#8CD172"><span style="font-size: 7px; width: 31.5px; transform: scale(0.7549);">Not enough data (yet!)</span></div><div class="s sm" style="left:474.9px;top:763.2px;width:29.4px;height:29.4px;background-color:#8CD172"><span style="font-size: 7px; width: 62.02px; transform: scale(0.3834);">Process to needed to ensure people are clear on their accountabilities and responsibilities</span></div><div class="s sm" style="left:506.4px;top:763.2px;width:29.4px;height:29.4px;background-color:#FCD0E2"><span style="font-size: 7px; width: 47.78px; transform: scale(0.4977);">Staff communication issue</span></div><div class="s sm" style="left:537.9px;top:763.2px;width:29.4px;height:29.4px;background-color:#FEF6AA"><span style="font-size: 7px; width: 34.08px; transform: scale(0.6977);">Marketing restrictions</span></div><div class="s sm" style="left:2.4px;top:801.2px;width:29.4px;height:29.4px;background-color:#8CD172"><span style="font-size: 7px; width: 30.35px; transform: scale(0.7834);">Time/​Resource</span></div><div class="s sm" style="left:33.9px;top:801.2px;width:29.4px;height:29.4px;background-color:#8CD172"><span style="font-size: 7px; width: 53.97px; transform: scale(0.4406);">Lack of roles due to not having the full picture around past development (working on it)</span></div><div class="s sm" style="left:65.4px;top:801.2px;width:29.4px;height:29.4px;background-color:#8CD172"><span style="font-size: 7.48px; width: 23.78px;">Limited SKU's</span></div><div class="s sm" style="left:96.9px;top:801.2px;width:29.4px;height:29.4px;background-color:#C29ED5"><span style="font-size: 7px; width: 29.29px; transform: scale(0.812);">Short term ROI focus</span></div><div class="s sm" style="left:128.4px;top:801.2px;width:29.4px;height:29.4px;background-color:#FCD0E2"><span style="font-size: 7px; width: 50.69px; transform: scale(0.4692);">lack of understanding of new structure of certain processes</span></div><div class="s sm" style="left:159.9px;top:801.2px;width:29.4px;height:29.4px;background-color:#F0909A"><span style="font-size: 7px; width: 40.76px; transform: scale(0.5834);">lack of development resources</span></div><div class="s sm" style="left:191.4px;top:801.2px;width:29.4px;height:29.4px;background-color:#F0909A"><span style="font-size: 7px; width: 40.76px; transform: scale(0.5834);">unclearly defined roles causing delays</span></div><div class="s sm" style="left:222.9px;top:801.2px;width:29.4px;height:29.4px;background-color:#F0909A"><span style="font-size: 7px; width: 40.76px; transform: scale(0.5834);">my difficulty with time management</span></div><div class="s sm" style="left:254.4px;top:801.2px;width:29.4px;height:29.4px;background-color:#FEF6AA"><span style="font-size: 7px; width: 31.5px; transform: scale(0.7549);">Financial resources</span></div><div class="s sm" style="left:285.9px;top:801.2px;width:29.4px;height:29.4px;background-color:#E895C1"><span style="font-size: 7px; width: 47.78px; transform: scale(0.4977);">Understanding what is effective and what isn't</span></div><div class="s sm" style="left:317.4px;top:801.2px;width:29.4px;height:29.4px;background-color:#C29ED5"><span style="font-size: 7px; width: 34.08px; transform: scale(0.6977);">Value proposition for CRM</span></div><div class="s sm" style="left:348.9px;top:801.2px;width:29.4px;height:29.4px;background-color:#E895C1"><span style="font-size: 7px; width: 40.76px; transform: scale(0.5834);">Reliant on other peoples time constraints</span></div><div class="s sm" style="left:380.4px;top:801.2px;width:29.4px;height:29.4px;background-color:#E895C1"><span style="font-size: 7px; width: 42.86px; transform: scale(0.5549);">Different priorities from different people</span></div><div class="s sm" style="left:411.9px;top:801.2px;width:29.4px;height:29.4px;background-color:#8CD172"><span style="font-size: 7px; width: 45.18px; transform: scale(0.5263);">Revenue is a driver so it makes big investments more of a risk</span></div><div class="s sm" style="left:443.4px;top:801.2px;width:29.4px;height:29.4px;background-color:#C29ED5"><span style="font-size: 7px; width: 30.35px; transform: scale(0.7834);">Resource</span></div><div class="s sm" style="left:474.9px;top:801.2px;width:29.4px;height:29.4px;background-color:#FCD0E2"><span style="font-size: 7px; width: 35.54px; transform: scale(0.6692);">Conflicting info from different teams</span></div><div class="s sm" style="left:506.4px;top:801.2px;width:29.4px;height:29.4px;background-color:#FEF6AA"><span style="font-size: 7px; width: 31.5px; transform: scale(0.7549);">Public attitude to sex toys</span></div><div class="s sm" style="left:537.9px;top:801.2px;width:29.4px;height:29.4px;background-color:#FEF6AA"><span style="font-size: 7px; width: 37.12px; transform: scale(0.6406);">Competition</span></div><div class="s sm" style="left:2.4px;top:839.5px;width:29.4px;height:29.4px;background-color:#FEF6AA"><span style="font-size: 7px; width: 42.86px; transform: scale(0.5549);">Time to focus on goals and non day 2 day</span></div><div class="s sm" style="left:33.9px;top:839.5px;width:29.4px;height:29.4px;background-color:#FEF6AA"><span style="font-size: 7px; width: 25.67px; transform: scale(0.9263);">Children etc...</span></div><div class="s sm" style="left:65.4px;top:839.5px;width:29.4px;height:29.4px;background-color:#8CD172"><span style="font-size: 7px; width: 53.97px; transform: scale(0.4406);">Commitments to an agile plan to look for innovative things that aren't yet developed</span></div><div class="s sm" style="left:96.9px;top:839.5px;width:29.4px;height:29.4px;background-color:#8CD172"><span style="font-size: 7px; width: 45.18px; transform: scale(0.5263);">The inability to develop/​move right now due to Shopify (working on it)</span></div><div class="s sm" style="left:128.4px;top:839.5px;width:29.4px;height:29.4px;background-color:#8CD172"><span style="font-size: 7px; width: 34.08px; transform: scale(0.6977);">Ceilings/​ offline restrictions</span></div><div class="s sm" style="left:159.9px;top:839.5px;width:29.4px;height:29.4px;background-color:#8CD172"><span style="font-size: 7px; width: 53.97px; transform: scale(0.4406);">Good thing and bad thing but trends moving style makes it harder to get together IRL</span></div><div class="s sm" style="left:191.4px;top:839.5px;width:29.4px;height:29.4px;background-color:#F0909A"><span style="font-size: 7px; width: 40.76px; transform: scale(0.5834);">website/​brand/​ecommerce infrastructure</span></div><div class="s sm" style="left:222.9px;top:839.5px;width:29.4px;height:29.4px;background-color:#F0909A"><span style="font-size: 7.68px; width: 23.78px;">COVID</span></div><div class="s sm" style="left:254.4px;top:839.5px;width:29.4px;height:29.4px;background-color:#E895C1"><span style="font-size: 7px; width: 26.49px; transform: scale(0.8977);">my cat is very needy</span></div><div class="s sm" style="left:285.9px;top:839.5px;width:29.4px;height:29.4px;background-color:#FEF6AA"><span style="font-size: 7px; width: 45.18px; transform: scale(0.5263);">Lack of strategic planning, budgeting and timelines</span></div><div class="s sm" style="left:317.4px;top:839.5px;width:29.4px;height:29.4px;background-color:#FEF6AA"><span style="font-size: 7px; width: 26.49px; transform: scale(0.8977);">Adam (but less so)</span></div><div class="s sm" style="left:348.9px;top:839.5px;width:29.4px;height:29.4px;background-color:#FEF6AA"><span style="font-size: 7px; width: 32.74px; transform: scale(0.7263);">Conflicting priorities</span></div><div class="s sm" style="left:380.4px;top:839.5px;width:29.4px;height:29.4px;background-color:#FEF6AA"><span style="font-size: 7px; width: 37.12px; transform: scale(0.6406);">Competition</span></div><div class="s sm" style="left:411.9px;top:839.5px;width:29.4px;height:29.4px;background-color:#FEF6AA"><span style="font-size: 7px; width: 40.76px; transform: scale(0.5834);">Cost of living preventing people from buying</span></div><div class="s sm" style="left:443.4px;top:839.5px;width:29.4px;height:29.4px;background-color:#FEF6AA"><span style="font-size: 7px; width: 50.69px; transform: scale(0.4692);">Lack of understanding by customers of what makes HO different/​special</span></div><div class="s sm" style="left:474.9px;top:839.5px;width:29.4px;height:29.4px;background-color:#FEF6AA"><span style="font-size: 7px; width: 27.36px; transform: scale(0.8692);">Copycat products</span></div><div class="s sm" style="left:506.4px;top:839.5px;width:29.4px;height:29.4px;background-color:#FEF6AA"><span style="font-size: 7px; width: 45.18px; transform: scale(0.5263);">Nick Blair's unwillingness to be our brand ambassador</span></div><div class="s sm" style="left:537.9px;top:839.5px;width:29.4px;height:29.4px;background-color:#E895C1"><span style="font-size: 7px; width: 45.18px; transform: scale(0.5263);">Inability to advertise properly on social media (yet)</span></div><div class="s sm" style="left:2.4px;top:878.0px;width:29.4px;height:29.4px;background-color:#E895C1"><span style="font-size: 7px; width: 45.18px; transform: scale(0.5263);">Authority censorship - having to keep imagery tame</span></div><div class="s sm" style="left:33.9px;top:878.0px;width:29.4px;height:29.4px;background-color:#E895C1"><span style="font-size: 7px; width: 53.97px; transform: scale(0.4406);">Having to reinvent the cycle and reuse imagery of content that I have for Clients</span></div><div class="s sm" style="left:65.4px;top:878.0px;width:29.4px;height:29.4px;background-color:#C29ED5"><span style="font-size: 7px; width: 53.97px; transform: scale(0.4406);">External viewpoints - limitations (what we can say and always restricted)</span></div><div class="s sm" style="left:96.9px;top:878.0px;width:29.4px;height:29.4px;background-color:#C29ED5"><span style="font-size: 9.68px; width: 23.78px;">Clear R&amp;R</span></div><div class="s sm" style="left:128.4px;top:878.0px;width:29.4px;height:29.4px;background-color:#FCD0E2"><span style="font-size: 7px; width: 42.86px; transform: scale(0.5549);">lack of clear demarcation of accountability</span></div><div class="s sm" style="left:159.9px;top:878.0px;width:29.4px;height:29.4px;background-color:#C29ED5"><span style="font-size: 7.68px; width: 23.78px;">Budget</span></div><div class="s sm" style="left:191.4px;top:878.0px;width:29.4px;height:29.4px;background-color:#FEF6AA"><span style="font-size: 7px; width: 30.35px; transform: scale(0.7834);">Skillsets within the business</span></div><div class="s sm" style="left:222.9px;top:878.0px;width:29.4px;height:29.4px;background-color:#8CD172"><span style="font-size: 7px; width: 45.18px; transform: scale(0.5263);">Hard to define priority because everything is a priority</span></div><div class="s sm" style="left:254.4px;top:878.0px;width:29.4px;height:29.4px;background-color:#8CD172"><span style="font-size: 7px; width: 45.18px; transform: scale(0.5263);">we need more collaboration and dedicated time without firing cleaned</span></div><div class="s sm" style="left:285.9px;top:878.0px;width:29.4px;height:29.4px;background-color:#8CD172"><span style="font-size: 7px; width: 53.97px; transform: scale(0.4406);">Current financial situation in the world affecting brands and market</span></div><div class="s sm" style="left:317.4px;top:878.0px;width:29.4px;height:29.4px;background-color:#C29ED5"><span style="font-size: 7px; width: 45.18px; transform: scale(0.5263);">Long term product and brand strategy (awareness)</span></div><div class="s sm" style="left:348.9px;top:878.0px;width:29.4px;height:29.4px;background-color:#F0909A"><span style="font-size: 7px; width: 37.12px; transform: scale(0.6406);">Censorship/​addictive nature of business</span></div><div class="s sm" style="left:380.4px;top:878.0px;width:29.4px;height:29.4px;background-color:#FEF6AA"><span style="font-size: 9.68px; width: 23.78px;">Lack visic</span></div><div class="s sm" style="left:411.9px;top:878.0px;width:29.4px;height:29.4px;background-color:#FEF6AA"><span style="font-size: 9.68px; width: 23.78px;">ia</span></div><div class="s sm" style="left:443.4px;top:878.0px;width:29.4px;height:29.4px;background-color:#C29ED5"><span style="font-size: 7px; width: 45.18px; transform: scale(0.5263);">Category ranges (for example condoms in Facebook)</span></div><div class="s sm" style="left:478.0px;top:878.0px;width:29.4px;height:29.4px;background-color:#FEF6AA"><span style="font-size: 7px; width: 32.74px; transform: scale(0.7263);">Lack of markets to grow into</span></div><div class="s sm" style="left:513.2px;top:878.0px;width:29.4px;height:29.4px;background-color:#FEF6AA"><span style="font-size: 7px; width: 45.18px; transform: scale(0.5263);">Barriers to enter countries such as import tax</span></div><div class="s sm" style="left:544.7px;top:878.0px;width:29.4px;height:29.4px;background-color:#FEF6AA"><span style="font-size: 7px; width: 35.54px; transform: scale(0.6692);">Ability to invest unique products</span></div><div class="s sm" style="left:398.0px;top:874.7px;width:29.6px;height:29.4px;background-color:#FEF6AA"><span style="font-size: 7px; width: 47.59px; transform: scale(0.5169);">Barriers to enter countries such as import tax</span></div><div class="s sm" style="left:2.4px;top:967.0px;width:29.5px;height:29.2px;background-color:#FCD0E2"><span style="font-size: 7px; width: 47.59px; transform: scale(0.5169);">Clearer job descriptions = people more confident in their role</span></div><div class="s sm" style="left:36.2px;top:967.0px;width:29.5px;height:29.2px;background-color:#C29ED5"><span style="font-size: 7px; width: 57.06px; transform: scale(0.4312);">By understanding constraints we can work to ensure skilled expectations are clearer</span></div><div class="s sm" style="left:2.4px;top:1005.0px;width:29.5px;height:29.2px;background-color:#C29ED5"><span style="font-size: 7px; width: 50.38px; transform: scale(0.4883);">By having clear R&amp;R we are able to deliver faster and more effectively</span></div><div class="s sm" style="left:36.2px;top:1005.0px;width:29.5px;height:29.2px;background-color:#C29ED5"><span style="font-size: 7px; width: 57.06px; transform: scale(0.4312);">Focusing larger term will lead to a stronger brand experience that will lead to more growth</span></div><div class="s sm" style="left:2.4px;top:1044.2px;width:29.5px;height:29.2px;background-color:#FCD0E2"><span style="font-size: 7px; width: 65.77px; transform: scale(0.374);">A greater understanding of the wider industry and company cultures from B2B teams to improve experiences</span></div><div class="s sm" style="left:36.2px;top:1044.2px;width:29.5px;height:29.2px;background-color:#C29ED5"><span style="font-size: 7px; width: 65.77px; transform: scale(0.374);">Transparent categorisation allows us to spot upsell routes/​products and marketing opportunities</span></div><div class="s sm" style="left:83.1px;top:965.0px;width:29.6px;height:29.6px;background-color:#60C8C2"><span style="font-size: 7px; width: 38.98px; transform: scale(0.6312);">Clear vision + clear expectations</span></div><div class="s sm" style="left:117.3px;top:965.0px;width:29.6px;height:29.6px;background-color:#F0909A"><span style="font-size: 7px; width: 45.1px; transform: scale(0.5454);">More engaged staff as they aren't dealing with repeat issues</span></div><div class="s sm" style="left:151.4px;top:965.0px;width:29.6px;height:29.6px;background-color:#F0909A"><span style="font-size: 7px; width: 45.1px; transform: scale(0.5454);">Less manual duties as automation takes the load</span></div><div class="s sm" style="left:83.1px;top:1004.4px;width:29.6px;height:29.6px;background-color:#F0909A"><span style="font-size: 7px; width: 53.51px; transform: scale(0.4597);">easier translation of high level planning into actual implementation</span></div><div class="s sm" style="left:117.3px;top:1004.4px;width:29.6px;height:29.6px;background-color:#F0909A"><span style="font-size: 7px; width: 47.59px; transform: scale(0.5169);">Better customer reviews due to clarity of stock availability</span></div><div class="s sm" style="left:151.4px;top:1004.4px;width:29.6px;height:29.6px;background-color:#F0909A"><span style="font-size: 7px; width: 35.74px; transform: scale(0.6883);">Better informed staff, less FUD</span></div><div class="s sm" style="left:83.1px;top:1042.7px;width:29.6px;height:29.6px;background-color:#E895C1"><span style="font-size: 7px; width: 45.1px; transform: scale(0.5454);">More time for other projects = translate to customer conversion</span></div><div class="s sm" style="left:193.9px;top:963.4px;width:29.6px;height:29.6px;background-color:#FEF6AA"><span style="font-size: 7px; width: 45.1px; transform: scale(0.5454);">Easier for customers to see the value of our products</span></div><div class="s sm" style="left:226.2px;top:963.4px;width:29.6px;height:29.6px;background-color:#FEF6AA"><span style="font-size: 7px; width: 45.1px; transform: scale(0.5454);">Able to quickly adapt to changes in market demands</span></div><div class="s sm" style="left:258.9px;top:963.4px;width:29.6px;height:29.6px;background-color:#FEF6AA"><span style="font-size: 7px; width: 35.74px; transform: scale(0.6883);">Able to quickly adjust to seasonality</span></div><div class="s sm" style="left:291.0px;top:963.4px;width:29.6px;height:29.6px;background-color:#FEF6AA"><span style="font-size: 7px; width: 45.1px; transform: scale(0.5454);">Easier for customers to chose the right products for them</span></div><div class="s sm" style="left:193.9px;top:1002.0px;width:29.6px;height:29.6px;background-color:#FEF6AA"><span style="font-size: 7px; width: 45.1px; transform: scale(0.5454);">Reduced costs means more money to spend elsewhere</span></div><div class="s sm" style="left:226.2px;top:1002.0px;width:29.6px;height:29.6px;background-color:#FEF6AA"><span style="font-size: 7px; width: 34.32px; transform: scale(0.7169);">Better value proposition</span></div><div class="s sm" style="left:258.9px;top:1002.0px;width:29.6px;height:29.6px;background-color:#FEF6AA"><span style="font-size: 7px; width: 35.74px; transform: scale(0.6883);">Higher rate of repeat customers</span></div><div class="s sm" style="left:291.0px;top:1002.0px;width:29.6px;height:29.6px;background-color:#FEF6AA"><span style="font-size: 7px; width: 45.1px; transform: scale(0.5454);">Less time spent on technical website issues</span></div><div class="s sm" style="left:193.9px;top:1040.6px;width:29.6px;height:29.6px;background-color:#FEF6AA"><span style="font-size: 7px; width: 45.1px; transform: scale(0.5454);">Allow Marketing more time to focus on the rest of the site</span></div><div class="s sm" style="left:226.2px;top:1040.6px;width:29.6px;height:29.6px;background-color:#FEF6AA"><span style="font-size: 7px; width: 40.82px; transform: scale(0.6026);">Less stress on management team</span></div><div class="s sm" style="left:258.9px;top:1040.6px;width:29.6px;height:29.6px;background-color:#FEF6AA"><span style="font-size: 7px; width: 34.32px; transform: scale(0.7169);">Higher conversion rates</span></div><div class="s sm" style="left:291.0px;top:1040.6px;width:29.6px;height:29.6px;background-color:#FEF6AA"><span style="font-size: 7px; width: 47.59px; transform: scale(0.5169);">Kelly and Molly are able to focus on idea generation and implementation</span></div><div class="s sm" style="left:334.6px;top:962.6px;width:29.6px;height:29.6px;background-color:#8CD172"><span style="font-size: 7px; width: 45.1px; transform: scale(0.5454);">Staff feel can prioritise and feel like they have autonomy</span></div><div class="s sm" style="left:366.1px;top:962.6px;width:29.6px;height:29.6px;background-color:#8CD172"><span style="font-size: 7px; width: 47.59px; transform: scale(0.5169);">Increased MFT profit due to wider footprint (CRO/​business services)</span></div><div class="s sm" style="left:397.9px;top:962.6px;width:29.6px;height:29.6px;background-color:#8CD172"><span style="font-size: 7px; width: 33px; transform: scale(0.7454);">More 'work' less meetings</span></div><div class="s sm" style="left:334.6px;top:1001.5px;width:29.6px;height:29.6px;background-color:#8CD172"><span style="font-size: 7px; width: 38.98px; transform: scale(0.6312);">data brings more slow and planned approach</span></div><div class="s sm" style="left:366.1px;top:1001.5px;width:29.6px;height:29.6px;background-color:#8CD172"><span style="font-size: 7px; width: 50.38px; transform: scale(0.4883);">Defined priorities = more understanding and less question asking</span></div><div class="s sm" style="left:397.9px;top:1001.5px;width:29.6px;height:29.6px;background-color:#8CD172"><span style="font-size: 7px; width: 47.59px; transform: scale(0.5169);">The ability to help others/​ everyone(well)</span></div><div class="s sm" style="left:334.6px;top:1039.7px;width:29.6px;height:29.6px;background-color:#8CD172"><span style="font-size: 7px; width: 35.74px; transform: scale(0.6883);">Happy customers because of great sex</span></div><div class="s sm" style="left:447.4px;top:962.8px;width:29.6px;height:29.6px;background-color:#FEF6AA"><span style="font-size: 7.22px; width: 24.6px;">Happier team</span></div><div class="s sm" style="left:480.1px;top:962.8px;width:29.6px;height:29.6px;background-color:#FCD0E2"><span style="font-size: 7px; width: 53.51px; transform: scale(0.4597);">Lack of stock management and Empowering staff to make decisions = better morale</span></div><div class="s sm" style="left:512.2px;top:962.8px;width:29.6px;height:29.6px;background-color:#60C8C2"><span style="font-size: 7px; width: 45.1px; transform: scale(0.5454);">Less stress for the team translating into higher productivity</span></div><div class="s sm" style="left:447.4px;top:1001.5px;width:29.6px;height:29.6px;background-color:#E895C1"><span style="font-size: 7px; width: 35.74px; transform: scale(0.6883);">Less stress = happier people!</span></div><div class="s sm" style="left:480.1px;top:1001.5px;width:29.6px;height:29.6px;background-color:#FEF6AA"><span style="font-size: 7px; width: 38.98px; transform: scale(0.6312);">Less stress for EVERYONE</span></div><div class="s sm" style="left:512.2px;top:1001.5px;width:29.6px;height:29.6px;background-color:#8CD172"><span style="font-size: 7px; width: 26.02px; transform: scale(0.9454);">Purpose</span></div><div class="s sm" style="left:447.4px;top:1043.6px;width:29.6px;height:29.6px;background-color:#F0909A"><span style="font-size: 7px; width: 45.1px; transform: scale(0.5454);">Staff able to take holidays without a huge backlog building up</span></div><div class="s sm" style="left:480.1px;top:1043.6px;width:29.6px;height:29.6px;background-color:#FCD0E2"><span style="font-size: 7px; width: 45.1px; transform: scale(0.5454);">Smoother processes = happier workforce for staff</span></div><div class="s sm" style="left:517.2px;top:1043.6px;width:29.6px;height:29.6px;background-color:#FCD0E2"><span style="font-size: 7px; width: 47.59px; transform: scale(0.5169);">Better communication = better ops and prevent mistakes</span></div><svg class="conn" width="1920" height="1080" viewBox="0 0 1920 1080"><path d="M706.8,1026.2 C712.7,1025.7 729.5,1025.2 742.2,1023.0 C754.9,1020.8 769.4,1016.9 783.0,1012.8 C796.6,1008.7 807.5,1003.6 823.7,998.5 C839.9,993.4 866.5,985.1 880.0,982.0 C893.5,978.9 896.7,980.4 905.0,980.0 C913.3,979.6 925.8,979.7 930.0,979.6" stroke="#F3A12C" stroke-width="2.4" fill="none" stroke-dasharray="8 5"></path><path d="M744.0,289.0 C746.2,291.5 753.7,298.7 757.0,304.0 C760.3,309.3 762.3,315.3 764.0,321.0 C765.7,326.7 766.1,331.8 767.0,338.0 C767.9,344.2 768.7,349.3 769.4,358.0 C770.1,366.7 770.9,378.5 771.3,390.0 C771.7,401.5 771.9,415.5 772.0,427.0 C772.1,438.5 772.2,441.7 772.0,459.0 C771.8,476.3 771.3,507.0 770.6,531.0 C769.9,555.0 768.5,583.2 767.8,603.0 C767.1,622.8 766.6,627.2 766.5,650.0 C766.4,672.8 766.4,716.7 767.0,740.0 C767.6,763.3 768.5,777.0 770.0,790.0 C771.5,803.0 773.7,808.8 776.0,818.0 C778.3,827.2 780.1,834.0 784.0,845.0 C787.9,856.0 792.7,870.7 799.3,884.0 C805.9,897.3 815.6,913.7 823.7,925.0 C831.8,936.3 838.6,944.7 848.0,952.0 C857.4,959.3 870.5,965.0 880.0,969.0 C889.5,973.0 896.7,974.2 905.0,976.0 C913.3,977.8 925.8,979.0 930.0,979.6" stroke="#F3A12C" stroke-width="2.4" fill="none" stroke-dasharray="8 5"></path><path d="M706.7,277.6 C798.2,277.6 768.6,440.6 860,440.6" stroke="#1E1E1E" stroke-width="2.4" fill="none" stroke-linecap="round"></path><path d="M867.0,440.6 L858.5,435.3 L861.0,440.6 L858.5,445.9 Z" fill="#1E1E1E"></path><path d="M706.8,919 C904.7,919 669.3,440.6 860,440.6" stroke="#1E1E1E" stroke-width="2.4" fill="none" stroke-linecap="round"></path><path d="M867.0,440.6 L858.5,435.3 L861.0,440.6 L858.5,445.9 Z" fill="#1E1E1E"></path><path d="M926,440.7 L950,440.7" stroke="#1E1E1E" stroke-width="2.4" fill="none" stroke-linecap="round"></path><path d="M956.0,440.7 L947.5,435.4 L950.0,440.7 L947.5,446.0 Z" fill="#1E1E1E"></path><path d="M1014.4,440.7 L1050,440.7" stroke="#1E1E1E" stroke-width="2.4" fill="none" stroke-linecap="round"></path><path d="M1056.5,440.7 L1048.0,435.4 L1050.5,440.7 L1048.0,446.0 Z" fill="#1E1E1E"></path><path d="M1114.4,440.6 L1151,440.6" stroke="#1E1E1E" stroke-width="2.4" fill="none" stroke-linecap="round"></path><path d="M1157.5,440.6 L1149.0,435.3 L1151.5,440.6 L1149.0,445.9 Z" fill="#1E1E1E"></path><path d="M984.8,474.6 L985.3,559" stroke="#1E1E1E" stroke-width="2.4" fill="none" stroke-linecap="round"></path><path d="M985.4,565.5 L990.7,557.0 L985.4,559.5 L980.1,557.0 Z" fill="#1E1E1E"></path><path d="M1308.5,356.6 L1360,356.6" stroke="#1E1E1E" stroke-width="2.4" fill="none" stroke-linecap="round"></path><path d="M1366.5,356.6 L1358.0,351.3 L1360.5,356.6 L1358.0,361.9 Z" fill="#1E1E1E"></path><path d="M1216.6,440.6 C1217.7,440.1 1221.2,439.7 1223.3,437.8 C1225.4,435.9 1227.8,432.9 1229.0,429.2 C1230.2,425.5 1230.5,421.3 1230.6,415.9 C1230.7,410.5 1230.0,403.3 1229.6,397.0 C1229.2,390.7 1228.3,383.4 1228.2,378.0 C1228.1,372.6 1228.3,368.0 1229.2,364.7 C1230.1,361.4 1231.8,359.5 1233.7,358.2 C1235.6,356.9 1238.9,356.9 1240.4,356.6 C1242.0,356.4 1242.6,356.7 1243.0,356.7" stroke="#1E1E1E" stroke-width="2.4" fill="none" stroke-linecap="round"></path><path d="M1249.3,356.7 L1240.8,351.4 L1243.3,356.7 L1240.8,362.0 Z" fill="#1E1E1E"></path><path d="M1216.6,440.6 C1217.7,441.1 1221.2,441.6 1223.3,443.5 C1225.4,445.4 1227.8,447.8 1229.0,452.0 C1230.2,456.2 1230.6,462.4 1230.6,469.0 C1230.6,475.6 1229.6,484.3 1229.2,491.9 C1228.8,499.5 1228.1,509.1 1228.4,514.6 C1228.7,520.1 1229.5,522.4 1230.9,525.0 C1232.3,527.6 1234.6,528.9 1236.6,530.0 C1238.6,531.1 1241.9,531.2 1243.0,531.4" stroke="#1E1E1E" stroke-width="2.4" fill="none" stroke-linecap="round"></path><path d="M1249.3,531.5 L1240.8,526.2 L1243.3,531.5 L1240.8,536.8 Z" fill="#1E1E1E"></path><path d="M1308.7,356.5 C1310.7,356.8 1317.2,356.4 1320.5,358.1 C1323.8,359.8 1326.2,363.0 1328.3,366.8 C1330.4,370.6 1331.7,375.5 1333.0,381.0 C1334.3,386.5 1334.9,394.6 1336.2,399.8 C1337.5,405.0 1339.1,408.7 1340.9,412.4 C1342.7,416.1 1344.8,419.7 1347.2,421.9 C1349.6,424.1 1353.0,425.0 1355.1,425.8 C1357.1,426.6 1358.8,426.4 1359.5,426.5" stroke="#1E1E1E" stroke-width="2.4" fill="none" stroke-linecap="round"></path><path d="M1366.1,426.6 L1357.6,421.3 L1360.1,426.6 L1357.6,431.9 Z" fill="#1E1E1E"></path><path d="M1308.7,356.5 C1310.7,356.8 1317.0,355.9 1320.5,358.1 C1324.0,360.3 1327.7,365.3 1329.9,369.9 C1332.1,374.5 1333.0,380.1 1333.8,385.6 C1334.5,391.1 1334.5,394.9 1334.4,403.0 C1334.3,411.1 1333.3,425.2 1333.0,434.4 C1332.7,443.6 1332.4,451.4 1332.5,458.0 C1332.6,464.6 1332.6,469.1 1333.8,473.8 C1335.0,478.5 1337.2,483.1 1339.4,486.4 C1341.6,489.7 1344.3,491.9 1347.2,493.5 C1350.1,495.1 1354.7,495.5 1356.7,496.0 C1358.8,496.5 1359.0,496.4 1359.5,496.5" stroke="#1E1E1E" stroke-width="2.4" fill="none" stroke-linecap="round"></path><path d="M1366.1,496.6 L1357.6,491.3 L1360.1,496.6 L1357.6,501.9 Z" fill="#1E1E1E"></path><path d="M1425.6,357.3 C1427.3,357.0 1431.7,356.8 1435.6,355.6 C1439.5,354.4 1444.1,352.6 1448.9,350.0 C1453.7,347.4 1459.2,343.5 1464.4,340.0 C1469.6,336.5 1474.8,331.9 1480.0,328.9 C1485.2,325.9 1490.8,323.6 1495.6,322.2 C1500.4,320.8 1506.3,320.6 1508.9,320.2 C1511.5,319.8 1510.7,320.0 1511.0,320.0" stroke="#1E1E1E" stroke-width="2.4" fill="none" stroke-linecap="round"></path><path d="M1517.5,320.0 L1509.0,314.7 L1511.5,320.0 L1509.0,325.3 Z" fill="#1E1E1E"></path><path d="M1425.6,357.3 C1428.4,357.8 1437.2,358.4 1442.2,360.0 C1447.2,361.6 1450.8,363.7 1455.6,366.7 C1460.4,369.7 1465.9,374.1 1471.1,377.8 C1476.3,381.5 1481.9,386.3 1486.7,388.9 C1491.5,391.5 1496.0,392.5 1500.0,393.3 C1504.0,394.1 1509.2,393.7 1511.0,393.8" stroke="#1E1E1E" stroke-width="2.4" fill="none" stroke-linecap="round"></path><path d="M1517.5,393.8 L1509.0,388.5 L1511.5,393.8 L1509.0,399.1 Z" fill="#1E1E1E"></path><path d="M1425.6,357.3 C1428.4,357.9 1438.0,358.8 1442.2,361.1 C1446.5,363.4 1448.9,365.7 1451.1,371.1 C1453.3,376.5 1454.5,384.8 1455.3,393.3 C1456.0,401.8 1455.7,411.8 1455.6,422.2 C1455.5,432.6 1454.6,444.5 1454.6,455.6 C1454.6,466.7 1454.3,480.8 1455.6,488.9 C1456.9,497.0 1459.2,500.1 1462.2,504.4 C1465.2,508.6 1469.6,512.0 1473.3,514.4 C1477.0,516.8 1482.3,518.0 1484.4,518.7 C1486.5,519.5 1485.7,518.9 1486.0,518.9" stroke="#1E1E1E" stroke-width="2.4" fill="none" stroke-linecap="round"></path><path d="M1492.4,518.9 L1483.9,513.6 L1486.5,518.9 L1483.9,524.2 Z" fill="#1E1E1E"></path><path d="M1278.2,565 C1280,595 1300,598.7 1324,598.7" stroke="#1E1E1E" stroke-width="2.4" fill="none" stroke-linecap="round"></path><path d="M1330.5,598.7 L1322.0,593.4 L1324.5,598.7 L1322.0,604.0 Z" fill="#1E1E1E"></path><path d="M1577,320.6 L1619,320.6" stroke="#1E1E1E" stroke-width="2.4" fill="none" stroke-linecap="round"></path><path d="M1625.5,320.6 L1617.0,315.3 L1619.5,320.6 L1617.0,325.9 Z" fill="#1E1E1E"></path><path d="M1684.4,320.4 C1760,320.4 1770,362.8 1835,362.8" stroke="#1E1E1E" stroke-width="2.4" fill="none" stroke-linecap="round"></path><path d="M1842.0,362.8 L1833.5,357.5 L1836.0,362.8 L1833.5,368.1 Z" fill="#1E1E1E"></path><path d="M1577,393.9 C1600,393.9 1600,401.1 1619,401.1" stroke="#1E1E1E" stroke-width="2.4" fill="none" stroke-linecap="round"></path><path d="M1625.5,401.1 L1617.0,395.8 L1619.5,401.1 L1617.0,406.4 Z" fill="#1E1E1E"></path><path d="M1684.4,401.1 L1727,401.1" stroke="#1E1E1E" stroke-width="2.4" fill="none" stroke-linecap="round"></path><path d="M1733.5,401.1 L1725.0,395.8 L1727.5,401.1 L1725.0,406.4 Z" fill="#1E1E1E"></path><path d="M1792.8,401.7 C1825,401.7 1815,362.8 1835,362.8" stroke="#1E1E1E" stroke-width="2.4" fill="none" stroke-linecap="round"></path><path d="M1842.0,362.8 L1833.5,357.5 L1836.0,362.8 L1833.5,368.1 Z" fill="#1E1E1E"></path><path d="M1654.7,435 C1656,490 1700,491.1 1804,491.1" stroke="#1E1E1E" stroke-width="2.4" fill="none" stroke-linecap="round"></path><path d="M1810.8,491.1 L1802.3,485.8 L1804.8,491.1 L1802.3,496.4 Z" fill="#1E1E1E"></path><path d="M1551,519 L1619,519" stroke="#1E1E1E" stroke-width="2.4" fill="none" stroke-linecap="round"></path><path d="M1625.5,519.0 L1617.0,513.7 L1619.5,519.0 L1617.0,524.3 Z" fill="#1E1E1E"></path><path d="M1840,525 L1840,559" stroke="#1E1E1E" stroke-width="2.4" fill="none" stroke-linecap="round"></path><path d="M1840.0,565.5 L1845.3,557.0 L1840.0,559.5 L1834.7,557.0 Z" fill="#1E1E1E"></path><path d="M1840,632 L1840,667" stroke="#1E1E1E" stroke-width="2.4" fill="none" stroke-linecap="round"></path><path d="M1840.0,673.5 L1845.3,665.0 L1840.0,667.5 L1834.7,665.0 Z" fill="#1E1E1E"></path><path d="M996,979.6 L1036,979.6" stroke="#4A4A4A" stroke-width="1.1" fill="none"></path><path d="M1040.5,979.6 L1035.5,976.5 L1037.0,979.6 L1035.5,982.7 Z" fill="#3A3A3A"></path><path d="M1099,979.6 L1138,979.6" stroke="#4A4A4A" stroke-width="1.1" fill="none"></path><path d="M1142.5,979.6 L1137.5,976.5 L1139.0,979.6 L1137.5,982.7 Z" fill="#3A3A3A"></path><path d="M1201.6,979.6 L1241,979.6" stroke="#4A4A4A" stroke-width="1.1" fill="none"></path><path d="M1245.5,979.6 L1240.5,976.5 L1242.0,979.6 L1240.5,982.7 Z" fill="#3A3A3A"></path><path d="M1303.8,979.6 C1330,979.6 1320,918.2 1344,918.2" stroke="#4A4A4A" stroke-width="1.1" fill="none"></path><path d="M1348.5,918.2 L1343.5,915.1 L1345.0,918.2 L1343.5,921.3 Z" fill="#3A3A3A"></path><path d="M1303.8,979.6 C1330,979.6 1320,1025 1344,1025" stroke="#4A4A4A" stroke-width="1.1" fill="none"></path><path d="M1348.5,1025.0 L1343.5,1021.9 L1345.0,1025.0 L1343.5,1028.1 Z" fill="#3A3A3A"></path><path d="M1406.7,918.2 L1470,918.2" stroke="#4A4A4A" stroke-width="1.1" fill="none"></path><path d="M1474.5,918.2 L1469.5,915.1 L1471.0,918.2 L1469.5,921.3 Z" fill="#3A3A3A"></path><path d="M1407.1,1025.6 L1470,1025.6" stroke="#4A4A4A" stroke-width="1.1" fill="none"></path><path d="M1474.5,1025.6 L1469.5,1022.5 L1471.0,1025.6 L1469.5,1028.7 Z" fill="#3A3A3A"></path><path d="M937.0,979.6 L928.5,974.3 L931.0,979.6 L928.5,984.9 Z" fill="#F3A12C"></path></svg><div class="s sh" style="left:650.0px;top:247.0px;width:55.4px;height:55.4px;background-color:#F0979F"><span style="font-size: 10.77px; width: 45.1px;">Social (Organic)</span></div><div class="s sh" style="left:650.0px;top:354.0px;width:55.4px;height:55.4px;background-color:#F0979F"><span style="font-size: 8.97px; width: 45.1px;">Google/​ Search (organic &amp; paid)</span></div><div class="s sh" style="left:650.0px;top:461.0px;width:55.4px;height:55.4px;background-color:#F0979F"><span style="font-size: 18.17px; width: 45.1px;">Email</span></div><div class="s sh" style="left:650.0px;top:568.0px;width:55.4px;height:55.4px;background-color:#F0979F"><span style="font-size: 11.97px; width: 45.1px;">3rd party media</span></div><div class="s sh" style="left:650.0px;top:675.0px;width:55.4px;height:55.4px;background-color:#F0979F"><span style="font-size: 11.97px; width: 45.1px;">Affiliates</span></div><div class="s sh" style="left:650.0px;top:782.0px;width:55.4px;height:55.4px;background-color:#F0979F"><span style="font-size: 16.57px; width: 45.1px;">Print media</span></div><div class="s sh" style="left:650.0px;top:889.0px;width:55.4px;height:55.4px;background-color:#F0979F"><span style="font-size: 12.37px; width: 45.1px;">referrals</span></div><div class="s sh" style="left:650.0px;top:995.5px;width:55.4px;height:55.4px;background-color:#F0979F"><span style="font-size: 12.37px; width: 45.1px;">Amazon</span></div><div class="s sh" style="left:869.0px;top:410.0px;width:55.4px;height:55.4px;background-color:#F0979F"><span style="font-size: 12.57px; width: 45.1px;">Website</span></div><div class="s sh" style="left:957.0px;top:410.0px;width:55.4px;height:55.4px;background-color:#F0979F"><span style="font-size: 17.77px; width: 45.1px;">Order</span></div><div class="s sh" style="left:1058.0px;top:410.0px;width:55.4px;height:55.4px;background-color:#F0979F"><span style="font-size: 16.37px; width: 45.1px;">Select region</span></div><div class="s sh" style="left:1159.0px;top:410.0px;width:55.4px;height:55.4px;background-color:#F0979F"><span style="font-size: 17.37px; width: 45.1px;">Stripe</span></div><div class="s sh" style="left:1251.0px;top:326.0px;width:55.4px;height:55.4px;background-color:#F0979F"><span style="font-size: 11.57px; width: 45.1px;">Backend</span></div><div class="s sh" style="left:1251.5px;top:501.0px;width:55.4px;height:55.4px;background-color:#F0979F"><span style="font-size: 14.97px; width: 45.1px;">Send receipt</span></div><div class="s sh" style="left:1332.5px;top:568.0px;width:55.4px;height:55.4px;background-color:#F0979F"><span style="font-size: 9.57px; width: 45.1px;">Thank you page on website</span></div><div class="s sh" style="left:1368.5px;top:326.0px;width:55.4px;height:55.4px;background-color:#F0979F"><span style="font-size: 9.37px; width: 45.1px;">Unleashed</span></div><div class="s sh" style="left:1368.5px;top:396.0px;width:55.4px;height:55.4px;background-color:#F0979F"><span style="font-size: 10.17px; width: 45.1px;">Customer reviews (trustpilot)</span></div><div class="s sh" style="left:1368.5px;top:466.0px;width:55.4px;height:55.4px;background-color:#F0979F"><span style="font-size: 10.37px; width: 45.1px;">Marketing tracking</span></div><div class="s sh" style="left:1520.0px;top:290.0px;width:55.4px;height:55.4px;background-color:#F0979F"><span style="font-size: 15.37px; width: 45.1px;">Ship station</span></div><div class="s sh" style="left:1520.0px;top:363.5px;width:55.4px;height:55.4px;background-color:#F0979F"><span style="font-size: 13.77px; width: 45.1px;">Manual CSV</span></div><div class="s sh" style="left:1628.0px;top:290.0px;width:55.4px;height:55.4px;background-color:#F0979F"><span style="font-size: 11.97px; width: 45.1px;">Tracking etc</span></div><div class="s sh" style="left:1628.0px;top:370.5px;width:55.4px;height:55.4px;background-color:#F0979F"><span style="font-size: 10.77px; width: 45.1px;">Send to fulfillment house</span></div><div class="s sh" style="left:1735.0px;top:370.5px;width:55.4px;height:55.4px;background-color:#F0979F"><span style="font-size: 9.97px; width: 45.1px;">Send tracking emails etc</span></div><div class="s sh" style="left:1844.0px;top:333.0px;width:55.4px;height:55.4px;background-color:#F0979F"><span style="font-size: 13.17px; width: 45.1px;">Get Product</span></div><div class="s sh" style="left:1495.0px;top:488.0px;width:55.4px;height:55.4px;background-color:#F0979F"><span style="font-size: 11.97px; width: 45.1px;">Marked as invoiced</span></div><div class="s sh" style="left:1628.0px;top:488.0px;width:55.4px;height:55.4px;background-color:#F0979F"><span style="font-size: 18.37px; width: 45.1px;">Xero</span></div><div class="s sh" style="left:958.0px;top:567.0px;width:55.4px;height:55.4px;background-color:#FA963F"><span style="font-size: 12.77px; width: 45.1px;">No user account</span></div><div class="s sh" style="left:1812.5px;top:460.5px;width:55.4px;height:55.4px;background-color:#FA963F"><span style="font-size: 13.97px; width: 45.1px;">Picking errors</span></div><div class="s sh" style="left:1813.0px;top:567.5px;width:55.4px;height:55.4px;background-color:#FA963F"><span style="font-size: 8.57px; width: 45.1px;">Product and address get mixed up</span></div><div class="s sh" style="left:1813.0px;top:676.5px;width:55.4px;height:55.4px;background-color:#FA963F"><span style="font-size: 7.77px; width: 45.1px;">Send correct order and paid return slip</span></div><div class="s sh" style="left:938.5px;top:949.0px;width:55.4px;height:55.4px;background-color:#F5D231"><span style="font-size: 12.37px; width: 45.1px;">Amazon</span></div><div class="s sh" style="left:1041.5px;top:949.0px;width:55.4px;height:55.4px;background-color:#F5D231"><span style="font-size: 11.77px; width: 45.1px;">Recieve payment</span></div><div class="s sh" style="left:1144.0px;top:949.0px;width:55.4px;height:55.4px;background-color:#F5D231"><span style="font-size: 14.57px; width: 45.1px;">Deliver</span></div><div class="s sh" style="left:1247.0px;top:949.0px;width:55.4px;height:55.4px;background-color:#F5D231"><span style="font-size: 14.97px; width: 45.1px;">Return</span></div><div class="s sh" style="left:1350.0px;top:887.0px;width:55.4px;height:55.4px;background-color:#F5D231"><span style="font-size: 17.17px; width: 45.1px;">Direct to HO</span></div><div class="s sh" style="left:1476.0px;top:887.0px;width:55.4px;height:55.4px;background-color:#F5D231"><span style="font-size: 12.37px; width: 45.1px;">Replace</span></div><div class="s sh" style="left:1350.0px;top:995.5px;width:55.4px;height:55.4px;background-color:#F5D231"><span style="font-size: 12.37px; width: 45.1px;">Amazon</span></div><div class="s sh" style="left:1476.0px;top:995.5px;width:55.4px;height:55.4px;background-color:#F5D231"><span style="font-size: 13.97px; width: 45.1px;">Refund</span></div><div class="s sm" style="left:1734.5px;top:421.0px;width:32.0px;height:32.0px;background-color:#C8E15C"><span style="font-size: 7px; width: 34.75px; transform: scale(0.7551);">Unbranded emails</span></div><div class="s sm" style="left:1861.0px;top:449.0px;width:32.0px;height:32.0px;background-color:#C8E15C"><span style="font-size: 7px; width: 26.67px; transform: scale(0.9837);">About 5% of orders</span></div><div class="s sm" style="left:950.0px;top:909.5px;width:32.0px;height:32.0px;background-color:#C8E15C"><span style="font-size: 7.09px; width: 26.24px;">Stock on hand</span></div><div class="s sm" style="left:1053.5px;top:909.5px;width:32.0px;height:32.0px;background-color:#C8E15C"><span style="font-size: 8.49px; width: 26.24px;">Bi-weekly</span></div><div class="s sm" style="left:1349.0px;top:848.0px;width:32.0px;height:32.0px;background-color:#C8E15C"><span style="font-size: 10.69px; width: 26.24px;">30%</span></div><div class="s sm" style="left:1350.0px;top:956.0px;width:32.0px;height:32.0px;background-color:#C8E15C"><span style="font-size: 10.69px; width: 26.24px;">70%</span></div><div class="sq" style="left:937.0px"></div><div class="sq" style="left:957.6px"></div><div class="sq" style="left:978.1px"></div><div class="ti" style="left:180.5px;top:27.6px;width:200.0px;height:10.2px;font-weight:bold;font-style:normal;color:#1F1F1F"><span style="font-size: 14.83px; line-height: 14.83px; top: -2.35px; transform: scaleX(0.9868);">Understand → Hot Octopuss</span></div><div class="ti" style="left:108.0px;top:66.0px;width:344.6px;height:10.4px;font-weight:bold;font-style:normal;color:#1F1F1F"><span style="font-size: 15.12px; line-height: 15.12px; top: -2.4px; transform: scaleX(0.9772);">1.1. What makes Hot Octopuss different? [5mins]</span></div><div class="ti" style="left:176.0px;top:222.4px;width:209.3px;height:10.3px;font-weight:bold;font-style:normal;color:#1F1F1F"><span style="font-size: 14.97px; line-height: 14.97px; top: -2.37px; transform: scaleX(0.9678);">1.2. What do we sell? [10mins]</span></div><div class="ti" style="left:133.7px;top:397.3px;width:293.8px;height:10.2px;font-weight:bold;font-style:normal;color:#1F1F1F"><span style="font-size: 14.83px; line-height: 14.83px; top: -2.35px; transform: scaleX(0.9661);">1.3. What does success look like? [10mins]</span></div><div class="ti" style="left:190.7px;top:572.3px;width:179.4px;height:10.4px;font-weight:bold;font-style:normal;color:#1F1F1F"><span style="font-size: 15.12px; line-height: 15.12px; top: -2.4px; transform: scaleX(0.9538);">1.4. Define Goals [10mins]</span></div><div class="ti" style="left:143.3px;top:746.5px;width:274.2px;height:10.2px;font-weight:bold;font-style:normal;color:#1F1F1F"><span style="font-size: 14.83px; line-height: 14.83px; top: -2.35px; transform: scaleX(0.9933);">1.5. What are the constraints? [10mins]</span></div><div class="ti" style="left:39.9px;top:922.0px;width:481.8px;height:10.3px;font-weight:bold;font-style:normal;color:#1F1F1F"><span style="font-size: 14.97px; line-height: 14.97px; top: -2.37px; transform: scaleX(1.0005);">1.6. What value is derived from the implementation of this solution?</span></div><div class="ti" style="left:250.8px;top:942.1px;width:59.7px;height:10.3px;font-weight:bold;font-style:normal;color:#1F1F1F"><span style="font-size: 14.97px; line-height: 14.97px; top: -2.37px; transform: scaleX(0.9697);">[10mins]</span></div><div class="ti" style="left:1151.0px;top:69.1px;width:255.0px;height:9.4px;font-weight:bold;font-style:normal;color:#1F1F1F"><span style="font-size: 13.66px; line-height: 13.66px; top: -2.17px; transform: scaleX(1.0028);">2.3. User Experience Journey [20 mins]</span></div><div class="ti" style="left:1138.0px;top:105.3px;width:281.0px;height:9.4px;font-weight:normal;font-style:italic;color:#3C3C3C"><span style="font-size: 13.66px; line-height: 13.66px; top: -2.17px; transform: scaleX(0.9794);">Practical - Map out our user experience journey</span></div><div class="ti" style="left:1151.6px;top:123.1px;width:254.4px;height:9.4px;font-weight:normal;font-style:italic;color:#3C3C3C"><span style="font-size: 13.66px; line-height: 13.66px; top: -2.17px; transform: scaleX(0.9496);">Plot - Users vs Discover / Learn / Use / Goal</span></div><div class="ti" style="left:1472.8px;top:277.7px;width:70.8px;height:8.0px;font-weight:bold;font-style:normal;color:#2A2A2A"><span style="font-size: 11.63px; line-height: 11.63px; top: -1.84px; transform: scaleX(0.841);">USA / CANADA</span></div><div class="ti" style="left:27.0px;top:728.9px;width:23.2px;height:4.9px;font-weight:normal;font-style:italic;color:#3A3A3A"><span style="font-size: 7.12px; line-height: 7.12px; top: -1.13px; transform: scaleX(0.9781);">Current</span></div><div class="ti" style="left:277.0px;top:728.9px;width:22.0px;height:4.9px;font-weight:normal;font-style:italic;color:#3A3A3A"><span style="font-size: 7.12px; line-height: 7.12px; top: -1.13px; transform: scaleX(0.9173);">2 Years</span></div><div class="ti" style="left:504.7px;top:728.9px;width:21.7px;height:4.9px;font-weight:normal;font-style:italic;color:#3A3A3A"><span style="font-size: 7.12px; line-height: 7.12px; top: -1.13px; transform: scaleX(0.9048);">5 Years</span></div><svg class="conn" width="1920" height="1080" viewBox="0 0 1920 1080"><g transform="translate(694.60,186.50) skewX(-17) scale(1.000)" fill="none" stroke="#1C1C1C" stroke-width="1.90" stroke-linecap="round" stroke-linejoin="round"><path d="M0.98,0.30 L0.98,16.80 M0.00,0.60 C7.86,-0.60 10.61,4.00 10.41,8.60 C10.21,13.60 6.38,17.00 0.59,16.90"></path><path d="M12.39,1.20 L19.07,0.60 M15.63,0.90 L15.63,16.40 M12.00,16.90 L18.87,16.50"></path><path d="M29.11,2.40 C27.44,-0.40 21.25,-0.20 21.15,4.10 C21.05,8.20 29.11,8.00 29.21,12.40 C29.30,17.40 22.23,17.70 20.27,14.80"></path><path d="M40.12,2.60 C38.36,-0.60 31.38,-0.30 31.09,8.50 C30.79,16.40 37.37,18.20 40.12,14.60"></path><path d="M46.62,0.30 C41.32,0.30 40.93,17.00 46.04,17.00 C51.54,17.00 51.73,0.30 46.62,0.30"></path><path d="M52.73,0.40 L57.45,16.90 L62.36,0.00"></path><path d="M72.78,0.50 L64.34,0.60 L64.34,16.50 L72.39,16.40 M64.34,8.40 L71.21,8.20"></path><path d="M74.77,16.90 L74.77,0.60 C83.12,-0.20 84.00,8.20 75.36,8.60 L83.80,16.90"></path></g><g transform="translate(1071.90,186.50) skewX(-17) scale(1.000)" fill="none" stroke="#1C1C1C" stroke-width="1.90" stroke-linecap="round" stroke-linejoin="round"><path d="M0.97,0.00 L0.97,16.60 L8.89,16.40"></path><path d="M19.16,0.50 L10.85,0.60 L10.85,16.50 L18.77,16.40 M10.85,8.40 L17.61,8.20"></path><path d="M20.16,16.90 L25.47,0.20 L30.20,16.90 M22.48,10.40 L28.27,10.30"></path><path d="M32.17,16.90 L32.17,0.60 C40.38,-0.20 41.25,8.20 32.75,8.60 L41.06,16.90"></path><path d="M43.02,16.90 L43.02,0.20 L51.14,16.80 L51.14,0.00"></path></g><g transform="translate(1444.80,186.50) skewX(-17) scale(1.000)" fill="none" stroke="#1C1C1C" stroke-width="1.90" stroke-linecap="round" stroke-linejoin="round"><path d="M0.92,0.00 L0.92,11.60 C0.92,18.20 8.62,18.20 8.62,11.60 L8.62,0.00"></path><path d="M18.97,2.40 C17.41,-0.40 11.63,-0.20 11.54,4.10 C11.45,8.20 18.97,8.00 19.06,12.40 C19.15,17.40 12.55,17.70 10.72,14.80"></path><path d="M28.95,0.50 L21.07,0.60 L21.07,16.50 L28.59,16.40 M21.07,8.40 L27.49,8.20"></path></g><g transform="translate(1800.81,186.80) skewX(-17) scale(0.965)" fill="none" stroke="#1C1C1C" stroke-width="1.97" stroke-linecap="round" stroke-linejoin="round"><path d="M9.37,2.60 C7.69,-0.60 1.03,-0.30 0.75,8.50 C0.47,16.40 7.69,18.40 9.00,13.00 L9.09,9.60 L5.25,9.60"></path><path d="M15.62,0.30 C10.56,0.30 10.19,17.00 15.06,17.00 C20.31,17.00 20.50,0.30 15.62,0.30"></path><path d="M21.31,16.90 L26.47,0.20 L31.06,16.90 M23.56,10.40 L29.19,10.30"></path><path d="M33.00,0.00 L33.00,16.60 L40.69,16.40"></path></g></svg></div></body></html>
